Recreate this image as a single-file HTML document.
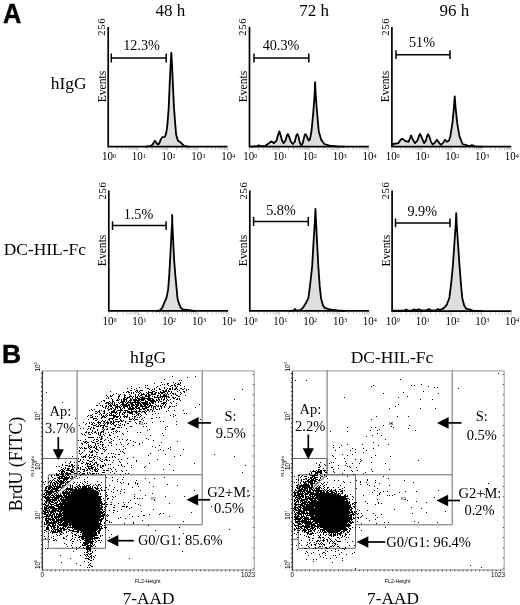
<!DOCTYPE html>
<html lang="en"><head><meta charset="utf-8"><title>Figure</title>
<style>html,body{margin:0;padding:0;background:#fff}svg{display:block}text{font-family:"Liberation Serif", serif;fill:#000}.s{font-family:"Liberation Sans", sans-serif}</style></head><body>
<svg width="520" height="605" viewBox="0 0 520 605">
<rect width="520" height="605" fill="#fff"/>
<text class="s" transform="translate(2.9 22.5) scale(0.94 1)" font-size="27" font-weight="bold" stroke="#000" stroke-width="0.4">A</text>
<text class="s" transform="translate(2.1 363) scale(1 1)" font-size="26.5" font-weight="bold" stroke="#000" stroke-width="0.4">B</text>
<text x="170.4" y="15.5" font-size="17" text-anchor="middle">48 h</text>
<text x="314" y="15.5" font-size="17" text-anchor="middle">72 h</text>
<text x="454.3" y="15.5" font-size="17" text-anchor="middle">96 h</text>
<text x="50.8" y="88.9" font-size="17.4">hIgG</text>
<text x="3.8" y="254.5" font-size="17.4">DC-HIL-Fc</text>
<path d="M108.2 147.6 v3.4 M117.2 147.6 v2.4 M122.4 147.6 v2.4 M126.1 147.6 v2.4 M129.0 147.6 v2.4 M131.4 147.6 v2.4 M133.4 147.6 v2.4 M135.1 147.6 v2.4 M136.6 147.6 v2.4 M138.0 147.6 v3.4 M147.0 147.6 v2.4 M152.2 147.6 v2.4 M155.9 147.6 v2.4 M158.8 147.6 v2.4 M161.2 147.6 v2.4 M163.2 147.6 v2.4 M164.9 147.6 v2.4 M166.4 147.6 v2.4 M167.8 147.6 v3.4 M176.8 147.6 v2.4 M182.0 147.6 v2.4 M185.7 147.6 v2.4 M188.6 147.6 v2.4 M191.0 147.6 v2.4 M193.0 147.6 v2.4 M194.7 147.6 v2.4 M196.2 147.6 v2.4 M197.6 147.6 v3.4 M206.6 147.6 v2.4 M211.8 147.6 v2.4 M215.5 147.6 v2.4 M218.4 147.6 v2.4 M220.8 147.6 v2.4 M222.8 147.6 v2.4 M224.5 147.6 v2.4 M226.0 147.6 v2.4 M227.5 147.6 v3.4" stroke="#aaa" stroke-width="0.7" fill="none"/>
<path d="M146.2 146.6 L151.2 145.9 L153.2 143.6 L154.7 140.8 L156.2 142.6 L157.7 144.4 L159.2 143.6 L160.7 139.6 L162.2 137.1 L164.7 136.8 L165.8 134.6 L166.6 130.6 L167.4 124.6 L168.7 107.9 L169.5 88.6 L170.4 68.6 L171.3 52.6 L172.2 68.6 L173.1 88.6 L174.0 107.9 L175.3 124.6 L176.1 134.6 L177.8 140.4 L180.7 142.5 L184.0 145.9 L188.2 146.6 Z" fill="#dedede" stroke="none"/>
<path d="M146.2 146.6 L151.2 145.9 L153.2 143.6 L154.7 140.8 L156.2 142.6 L157.7 144.4 L159.2 143.6 L160.7 139.6 L162.2 137.1 L164.7 136.8 L165.8 134.6 L166.6 130.6 L167.4 124.6 L168.7 107.9 L169.5 88.6 L170.4 68.6 L171.3 52.6 L172.2 68.6 L173.1 88.6 L174.0 107.9 L175.3 124.6 L176.1 134.6 L177.8 140.4 L180.7 142.5 L184.0 145.9 L188.2 146.6" fill="none" stroke="#000" stroke-width="1.8" stroke-linejoin="round" stroke-linecap="round"/>
<path d="M108.2 27 V146.6 H227.5" fill="none" stroke="#000" stroke-width="1.7"/>
<path d="M111.3 58 H166.2 M111.3 53.6 v8.8 M166.2 53.6 v8.8" stroke="#000" stroke-width="1.5" fill="none"/>
<text x="141.5" y="50.4" font-size="14.2" text-anchor="middle">12.3%</text>
<text transform="translate(109.0 160.4) scale(0.9 1)" font-size="12.2" text-anchor="middle">10<tspan font-size="7" dy="-2.6">0</tspan></text>
<text transform="translate(138.8 160.4) scale(0.9 1)" font-size="12.2" text-anchor="middle">10<tspan font-size="7" dy="-2.6">1</tspan></text>
<text transform="translate(168.6 160.4) scale(0.9 1)" font-size="12.2" text-anchor="middle">10<tspan font-size="7" dy="-2.6">2</tspan></text>
<text transform="translate(198.4 160.4) scale(0.9 1)" font-size="12.2" text-anchor="middle">10<tspan font-size="7" dy="-2.6">3</tspan></text>
<text transform="translate(228.2 160.4) scale(0.9 1)" font-size="12.2" text-anchor="middle">10<tspan font-size="7" dy="-2.6">4</tspan></text>
<text transform="translate(105.0 35.8) rotate(-90)" font-size="10.6" letter-spacing="0.7">256</text>
<text transform="translate(105.6 86.5) rotate(-90)" font-size="11.6" text-anchor="middle">Events</text>
<path d="M249.5 147.6 v3.4 M258.5 147.6 v2.4 M263.7 147.6 v2.4 M267.4 147.6 v2.4 M270.3 147.6 v2.4 M272.7 147.6 v2.4 M274.7 147.6 v2.4 M276.4 147.6 v2.4 M277.9 147.6 v2.4 M279.3 147.6 v3.4 M288.3 147.6 v2.4 M293.5 147.6 v2.4 M297.2 147.6 v2.4 M300.1 147.6 v2.4 M302.5 147.6 v2.4 M304.5 147.6 v2.4 M306.2 147.6 v2.4 M307.7 147.6 v2.4 M309.1 147.6 v3.4 M318.1 147.6 v2.4 M323.3 147.6 v2.4 M327.0 147.6 v2.4 M329.9 147.6 v2.4 M332.3 147.6 v2.4 M334.3 147.6 v2.4 M336.0 147.6 v2.4 M337.5 147.6 v2.4 M338.9 147.6 v3.4 M347.9 147.6 v2.4 M353.1 147.6 v2.4 M356.8 147.6 v2.4 M359.7 147.6 v2.4 M362.1 147.6 v2.4 M364.1 147.6 v2.4 M365.8 147.6 v2.4 M367.3 147.6 v2.4 M368.8 147.6 v3.4" stroke="#aaa" stroke-width="0.7" fill="none"/>
<path d="M251.5 146.6 L257.5 146.1 L258.8 145.2 L260.5 146.1 L265.4 145.8 L268.5 143.6 L271.1 141.4 L274.1 143.1 L276.5 140.6 L278.2 134.6 L279.4 131.4 L280.7 135.6 L282.0 140.6 L283.6 143.1 L285.5 140.6 L286.9 135.6 L287.9 134.1 L289.1 136.6 L290.8 141.6 L292.8 144.0 L294.8 141.6 L296.3 135.6 L297.4 134.1 L298.5 136.6 L299.8 142.6 L301.4 145.6 L302.9 142.6 L304.5 135.6 L305.6 134.1 L306.9 136.6 L308.7 140.6 L309.9 139.6 L311.5 131.0 L313.2 113.7 L314.5 96.6 L315.1 82.2 L315.8 96.6 L317.2 113.7 L318.7 131.0 L321.1 139.6 L324.3 144.0 L329.5 145.6 L337.5 146.3 L344.5 146.6 Z" fill="#dedede" stroke="none"/>
<path d="M251.5 146.6 L257.5 146.1 L258.8 145.2 L260.5 146.1 L265.4 145.8 L268.5 143.6 L271.1 141.4 L274.1 143.1 L276.5 140.6 L278.2 134.6 L279.4 131.4 L280.7 135.6 L282.0 140.6 L283.6 143.1 L285.5 140.6 L286.9 135.6 L287.9 134.1 L289.1 136.6 L290.8 141.6 L292.8 144.0 L294.8 141.6 L296.3 135.6 L297.4 134.1 L298.5 136.6 L299.8 142.6 L301.4 145.6 L302.9 142.6 L304.5 135.6 L305.6 134.1 L306.9 136.6 L308.7 140.6 L309.9 139.6 L311.5 131.0 L313.2 113.7 L314.5 96.6 L315.1 82.2 L315.8 96.6 L317.2 113.7 L318.7 131.0 L321.1 139.6 L324.3 144.0 L329.5 145.6 L337.5 146.3 L344.5 146.6" fill="none" stroke="#000" stroke-width="1.8" stroke-linejoin="round" stroke-linecap="round"/>
<path d="M249.5 27 V146.6 H368.8" fill="none" stroke="#000" stroke-width="1.7"/>
<path d="M254 58 H308.8 M254 53.6 v8.8 M308.8 53.6 v8.8" stroke="#000" stroke-width="1.5" fill="none"/>
<text x="281" y="50.4" font-size="14.2" text-anchor="middle">40.3%</text>
<text transform="translate(250.3 160.4) scale(0.9 1)" font-size="12.2" text-anchor="middle">10<tspan font-size="7" dy="-2.6">0</tspan></text>
<text transform="translate(280.1 160.4) scale(0.9 1)" font-size="12.2" text-anchor="middle">10<tspan font-size="7" dy="-2.6">1</tspan></text>
<text transform="translate(309.9 160.4) scale(0.9 1)" font-size="12.2" text-anchor="middle">10<tspan font-size="7" dy="-2.6">2</tspan></text>
<text transform="translate(339.7 160.4) scale(0.9 1)" font-size="12.2" text-anchor="middle">10<tspan font-size="7" dy="-2.6">3</tspan></text>
<text transform="translate(369.5 160.4) scale(0.9 1)" font-size="12.2" text-anchor="middle">10<tspan font-size="7" dy="-2.6">4</tspan></text>
<text transform="translate(246.3 35.8) rotate(-90)" font-size="10.6" letter-spacing="0.7">256</text>
<text transform="translate(246.9 86.5) rotate(-90)" font-size="11.6" text-anchor="middle">Events</text>
<path d="M391.9 147.6 v3.4 M400.9 147.6 v2.4 M406.1 147.6 v2.4 M409.8 147.6 v2.4 M412.7 147.6 v2.4 M415.1 147.6 v2.4 M417.1 147.6 v2.4 M418.8 147.6 v2.4 M420.3 147.6 v2.4 M421.7 147.6 v3.4 M430.7 147.6 v2.4 M435.9 147.6 v2.4 M439.6 147.6 v2.4 M442.5 147.6 v2.4 M444.9 147.6 v2.4 M446.9 147.6 v2.4 M448.6 147.6 v2.4 M450.1 147.6 v2.4 M451.5 147.6 v3.4 M460.5 147.6 v2.4 M465.7 147.6 v2.4 M469.4 147.6 v2.4 M472.3 147.6 v2.4 M474.7 147.6 v2.4 M476.7 147.6 v2.4 M478.4 147.6 v2.4 M479.9 147.6 v2.4 M481.3 147.6 v3.4 M490.3 147.6 v2.4 M495.5 147.6 v2.4 M499.2 147.6 v2.4 M502.1 147.6 v2.4 M504.5 147.6 v2.4 M506.5 147.6 v2.4 M508.2 147.6 v2.4 M509.7 147.6 v2.4 M511.2 147.6 v3.4" stroke="#aaa" stroke-width="0.7" fill="none"/>
<path d="M392.4 145.6 L393.3 144.0 L398.5 143.1 L400.6 139.7 L402.8 138.8 L405.4 141.1 L408.5 141.8 L409.9 138.6 L411.1 135.4 L412.4 138.6 L414.9 143.1 L417.4 140.6 L419.1 135.6 L420.1 134.1 L421.3 136.6 L424.1 143.1 L425.9 140.6 L427.3 135.6 L428.2 134.1 L429.3 136.6 L430.9 141.6 L432.7 144.6 L434.9 142.6 L436.9 139.7 L438.9 142.6 L440.9 144.9 L443.4 142.6 L444.9 139.7 L446.9 141.8 L449.0 140.6 L450.4 136.2 L452.5 122.4 L454.0 106.6 L454.7 96.4 L455.5 106.6 L457.1 122.4 L459.4 136.2 L462.5 144.0 L469.4 146.1 L472.0 145.2 L474.9 146.3 L481.9 146.6 Z" fill="#dedede" stroke="none"/>
<path d="M392.4 145.6 L393.3 144.0 L398.5 143.1 L400.6 139.7 L402.8 138.8 L405.4 141.1 L408.5 141.8 L409.9 138.6 L411.1 135.4 L412.4 138.6 L414.9 143.1 L417.4 140.6 L419.1 135.6 L420.1 134.1 L421.3 136.6 L424.1 143.1 L425.9 140.6 L427.3 135.6 L428.2 134.1 L429.3 136.6 L430.9 141.6 L432.7 144.6 L434.9 142.6 L436.9 139.7 L438.9 142.6 L440.9 144.9 L443.4 142.6 L444.9 139.7 L446.9 141.8 L449.0 140.6 L450.4 136.2 L452.5 122.4 L454.0 106.6 L454.7 96.4 L455.5 106.6 L457.1 122.4 L459.4 136.2 L462.5 144.0 L469.4 146.1 L472.0 145.2 L474.9 146.3 L481.9 146.6" fill="none" stroke="#000" stroke-width="1.8" stroke-linejoin="round" stroke-linecap="round"/>
<path d="M391.9 27 V146.6 H511.2" fill="none" stroke="#000" stroke-width="1.7"/>
<path d="M396 54.7 H450 M396 50.300000000000004 v8.8 M450 50.300000000000004 v8.8" stroke="#000" stroke-width="1.5" fill="none"/>
<text x="422" y="47.4" font-size="14.2" text-anchor="middle">51%</text>
<text transform="translate(392.7 160.4) scale(0.9 1)" font-size="12.2" text-anchor="middle">10<tspan font-size="7" dy="-2.6">0</tspan></text>
<text transform="translate(422.5 160.4) scale(0.9 1)" font-size="12.2" text-anchor="middle">10<tspan font-size="7" dy="-2.6">1</tspan></text>
<text transform="translate(452.3 160.4) scale(0.9 1)" font-size="12.2" text-anchor="middle">10<tspan font-size="7" dy="-2.6">2</tspan></text>
<text transform="translate(482.1 160.4) scale(0.9 1)" font-size="12.2" text-anchor="middle">10<tspan font-size="7" dy="-2.6">3</tspan></text>
<text transform="translate(511.9 160.4) scale(0.9 1)" font-size="12.2" text-anchor="middle">10<tspan font-size="7" dy="-2.6">4</tspan></text>
<text transform="translate(388.7 35.8) rotate(-90)" font-size="10.6" letter-spacing="0.7">256</text>
<text transform="translate(389.3 86.5) rotate(-90)" font-size="11.6" text-anchor="middle">Events</text>
<path d="M108.8 311.9 v3.4 M117.8 311.9 v2.4 M123.0 311.9 v2.4 M126.7 311.9 v2.4 M129.6 311.9 v2.4 M132.0 311.9 v2.4 M134.0 311.9 v2.4 M135.7 311.9 v2.4 M137.2 311.9 v2.4 M138.6 311.9 v3.4 M147.6 311.9 v2.4 M152.8 311.9 v2.4 M156.5 311.9 v2.4 M159.4 311.9 v2.4 M161.8 311.9 v2.4 M163.8 311.9 v2.4 M165.5 311.9 v2.4 M167.0 311.9 v2.4 M168.4 311.9 v3.4 M177.4 311.9 v2.4 M182.6 311.9 v2.4 M186.3 311.9 v2.4 M189.2 311.9 v2.4 M191.6 311.9 v2.4 M193.6 311.9 v2.4 M195.3 311.9 v2.4 M196.8 311.9 v2.4 M198.2 311.9 v3.4 M207.2 311.9 v2.4 M212.4 311.9 v2.4 M216.1 311.9 v2.4 M219.0 311.9 v2.4 M221.4 311.9 v2.4 M223.4 311.9 v2.4 M225.1 311.9 v2.4 M226.6 311.9 v2.4 M228.1 311.9 v3.4" stroke="#aaa" stroke-width="0.7" fill="none"/>
<path d="M156.8 310.9 L159.8 310.4 L162.3 307.9 L163.9 303.6 L166.5 297.9 L168.1 289.7 L169.2 275.9 L170.1 259.9 L171.1 240.9 L172.1 222.9 L172.2 214.9 L172.3 222.9 L173.2 240.9 L174.1 259.9 L175.4 275.9 L176.7 289.7 L177.6 298.9 L179.1 303.9 L180.8 307.9 L182.8 309.5 L188.8 310.1 L194.8 310.9 Z" fill="#dedede" stroke="none"/>
<path d="M156.8 310.9 L159.8 310.4 L162.3 307.9 L163.9 303.6 L166.5 297.9 L168.1 289.7 L169.2 275.9 L170.1 259.9 L171.1 240.9 L172.1 222.9 L172.2 214.9 L172.3 222.9 L173.2 240.9 L174.1 259.9 L175.4 275.9 L176.7 289.7 L177.6 298.9 L179.1 303.9 L180.8 307.9 L182.8 309.5 L188.8 310.1 L194.8 310.9" fill="none" stroke="#000" stroke-width="1.8" stroke-linejoin="round" stroke-linecap="round"/>
<path d="M108.8 190.6 V310.9 H228.1" fill="none" stroke="#000" stroke-width="1.7"/>
<path d="M112.5 225.6 H166.1 M112.5 221.2 v8.8 M166.1 221.2 v8.8" stroke="#000" stroke-width="1.5" fill="none"/>
<text x="138.5" y="218.7" font-size="14.2" text-anchor="middle">1.5%</text>
<text transform="translate(109.6 324.7) scale(0.9 1)" font-size="12.2" text-anchor="middle">10<tspan font-size="7" dy="-2.6">0</tspan></text>
<text transform="translate(139.4 324.7) scale(0.9 1)" font-size="12.2" text-anchor="middle">10<tspan font-size="7" dy="-2.6">1</tspan></text>
<text transform="translate(169.2 324.7) scale(0.9 1)" font-size="12.2" text-anchor="middle">10<tspan font-size="7" dy="-2.6">2</tspan></text>
<text transform="translate(199.0 324.7) scale(0.9 1)" font-size="12.2" text-anchor="middle">10<tspan font-size="7" dy="-2.6">3</tspan></text>
<text transform="translate(228.8 324.7) scale(0.9 1)" font-size="12.2" text-anchor="middle">10<tspan font-size="7" dy="-2.6">4</tspan></text>
<text transform="translate(105.6 199.4) rotate(-90)" font-size="10.6" letter-spacing="0.7">256</text>
<text transform="translate(106.2 250.4) rotate(-90)" font-size="11.6" text-anchor="middle">Events</text>
<path d="M249.8 311.9 v3.4 M258.8 311.9 v2.4 M264.0 311.9 v2.4 M267.7 311.9 v2.4 M270.6 311.9 v2.4 M273.0 311.9 v2.4 M275.0 311.9 v2.4 M276.7 311.9 v2.4 M278.2 311.9 v2.4 M279.6 311.9 v3.4 M288.6 311.9 v2.4 M293.8 311.9 v2.4 M297.5 311.9 v2.4 M300.4 311.9 v2.4 M302.8 311.9 v2.4 M304.8 311.9 v2.4 M306.5 311.9 v2.4 M308.0 311.9 v2.4 M309.4 311.9 v3.4 M318.4 311.9 v2.4 M323.6 311.9 v2.4 M327.3 311.9 v2.4 M330.2 311.9 v2.4 M332.6 311.9 v2.4 M334.6 311.9 v2.4 M336.3 311.9 v2.4 M337.8 311.9 v2.4 M339.2 311.9 v3.4 M348.2 311.9 v2.4 M353.4 311.9 v2.4 M357.1 311.9 v2.4 M360.0 311.9 v2.4 M362.4 311.9 v2.4 M364.4 311.9 v2.4 M366.1 311.9 v2.4 M367.6 311.9 v2.4 M369.1 311.9 v3.4" stroke="#aaa" stroke-width="0.7" fill="none"/>
<path d="M289.8 310.9 L293.8 310.4 L294.8 308.9 L295.8 310.4 L300.2 310.1 L302.8 307.9 L305.6 303.6 L308.4 298.2 L310.0 285.9 L312.2 265.9 L313.5 242.9 L314.9 220.9 L315.5 208.9 L316.0 220.9 L317.1 242.9 L318.3 265.9 L319.7 285.9 L321.0 298.2 L322.8 304.9 L324.4 307.7 L327.8 308.9 L331.2 309.6 L337.8 310.5 L344.8 310.9 Z" fill="#dedede" stroke="none"/>
<path d="M289.8 310.9 L293.8 310.4 L294.8 308.9 L295.8 310.4 L300.2 310.1 L302.8 307.9 L305.6 303.6 L308.4 298.2 L310.0 285.9 L312.2 265.9 L313.5 242.9 L314.9 220.9 L315.5 208.9 L316.0 220.9 L317.1 242.9 L318.3 265.9 L319.7 285.9 L321.0 298.2 L322.8 304.9 L324.4 307.7 L327.8 308.9 L331.2 309.6 L337.8 310.5 L344.8 310.9" fill="none" stroke="#000" stroke-width="1.8" stroke-linejoin="round" stroke-linecap="round"/>
<path d="M249.8 190.6 V310.9 H369.1" fill="none" stroke="#000" stroke-width="1.7"/>
<path d="M253.6 221.5 H308.3 M253.6 217.1 v8.8 M308.3 217.1 v8.8" stroke="#000" stroke-width="1.5" fill="none"/>
<text x="281" y="215.4" font-size="14.2" text-anchor="middle">5.8%</text>
<text transform="translate(250.6 324.7) scale(0.9 1)" font-size="12.2" text-anchor="middle">10<tspan font-size="7" dy="-2.6">0</tspan></text>
<text transform="translate(280.4 324.7) scale(0.9 1)" font-size="12.2" text-anchor="middle">10<tspan font-size="7" dy="-2.6">1</tspan></text>
<text transform="translate(310.2 324.7) scale(0.9 1)" font-size="12.2" text-anchor="middle">10<tspan font-size="7" dy="-2.6">2</tspan></text>
<text transform="translate(340.0 324.7) scale(0.9 1)" font-size="12.2" text-anchor="middle">10<tspan font-size="7" dy="-2.6">3</tspan></text>
<text transform="translate(369.8 324.7) scale(0.9 1)" font-size="12.2" text-anchor="middle">10<tspan font-size="7" dy="-2.6">4</tspan></text>
<text transform="translate(246.6 199.4) rotate(-90)" font-size="10.6" letter-spacing="0.7">256</text>
<text transform="translate(247.2 250.4) rotate(-90)" font-size="11.6" text-anchor="middle">Events</text>
<path d="M392.1 312.2 v3.4 M401.1 312.2 v2.4 M406.3 312.2 v2.4 M410.0 312.2 v2.4 M412.9 312.2 v2.4 M415.3 312.2 v2.4 M417.3 312.2 v2.4 M419.0 312.2 v2.4 M420.5 312.2 v2.4 M421.9 312.2 v3.4 M430.9 312.2 v2.4 M436.1 312.2 v2.4 M439.8 312.2 v2.4 M442.7 312.2 v2.4 M445.1 312.2 v2.4 M447.1 312.2 v2.4 M448.8 312.2 v2.4 M450.3 312.2 v2.4 M451.7 312.2 v3.4 M460.7 312.2 v2.4 M465.9 312.2 v2.4 M469.6 312.2 v2.4 M472.5 312.2 v2.4 M474.9 312.2 v2.4 M476.9 312.2 v2.4 M478.6 312.2 v2.4 M480.1 312.2 v2.4 M481.5 312.2 v3.4 M490.5 312.2 v2.4 M495.7 312.2 v2.4 M499.4 312.2 v2.4 M502.3 312.2 v2.4 M504.7 312.2 v2.4 M506.7 312.2 v2.4 M508.4 312.2 v2.4 M509.9 312.2 v2.4 M511.4 312.2 v3.4" stroke="#aaa" stroke-width="0.7" fill="none"/>
<path d="M392.6 310.7 L398.1 310.6 L404.1 310.7 L406.1 309.6 L408.1 310.6 L412.1 310.4 L414.1 309.4 L416.1 310.4 L419.1 309.2 L421.1 310.4 L426.1 310.4 L429.1 309.0 L431.1 310.4 L436.1 310.2 L438.1 309.0 L439.6 310.2 L442.1 309.2 L444.6 307.2 L446.6 305.2 L449.4 297.7 L451.2 283.2 L452.9 265.4 L454.4 243.2 L455.8 223.2 L456.2 213.2 L456.6 223.2 L458.0 243.2 L459.5 265.4 L460.9 283.2 L462.2 297.7 L464.1 305.2 L466.2 308.7 L470.1 309.7 L473.0 310.7 L482.1 311.2 Z" fill="#dedede" stroke="none"/>
<path d="M392.6 310.7 L398.1 310.6 L404.1 310.7 L406.1 309.6 L408.1 310.6 L412.1 310.4 L414.1 309.4 L416.1 310.4 L419.1 309.2 L421.1 310.4 L426.1 310.4 L429.1 309.0 L431.1 310.4 L436.1 310.2 L438.1 309.0 L439.6 310.2 L442.1 309.2 L444.6 307.2 L446.6 305.2 L449.4 297.7 L451.2 283.2 L452.9 265.4 L454.4 243.2 L455.8 223.2 L456.2 213.2 L456.6 223.2 L458.0 243.2 L459.5 265.4 L460.9 283.2 L462.2 297.7 L464.1 305.2 L466.2 308.7 L470.1 309.7 L473.0 310.7 L482.1 311.2" fill="none" stroke="#000" stroke-width="1.8" stroke-linejoin="round" stroke-linecap="round"/>
<path d="M392.1 190.6 V311.2 H511.40000000000003" fill="none" stroke="#000" stroke-width="1.7"/>
<path d="M395.5 222.9 H450 M395.5 218.5 v8.8 M450 218.5 v8.8" stroke="#000" stroke-width="1.5" fill="none"/>
<text x="422.2" y="216" font-size="14.2" text-anchor="middle">9.9%</text>
<text transform="translate(392.9 325.0) scale(0.9 1)" font-size="12.2" text-anchor="middle">10<tspan font-size="7" dy="-2.6">0</tspan></text>
<text transform="translate(422.7 325.0) scale(0.9 1)" font-size="12.2" text-anchor="middle">10<tspan font-size="7" dy="-2.6">1</tspan></text>
<text transform="translate(452.5 325.0) scale(0.9 1)" font-size="12.2" text-anchor="middle">10<tspan font-size="7" dy="-2.6">2</tspan></text>
<text transform="translate(482.3 325.0) scale(0.9 1)" font-size="12.2" text-anchor="middle">10<tspan font-size="7" dy="-2.6">3</tspan></text>
<text transform="translate(512.1 325.0) scale(0.9 1)" font-size="12.2" text-anchor="middle">10<tspan font-size="7" dy="-2.6">4</tspan></text>
<text transform="translate(388.9 199.4) rotate(-90)" font-size="10.6" letter-spacing="0.7">256</text>
<text transform="translate(389.5 250.6) rotate(-90)" font-size="11.6" text-anchor="middle">Events</text>
<path d="M42.4 370.9 H254.2" fill="none" stroke="#9a9a9a" stroke-width="1"/>
<path d="M254.2 370.9 V570" fill="none" stroke="#9a9a9a" stroke-width="1"/>
<path d="M42.4 570 H254.2" fill="none" stroke="#8a8a8a" stroke-width="1"/>
<path d="M42.4 370.9 V570.5" fill="none" stroke="#3a3a3a" stroke-width="1.3"/>
<path d="M42.4 570.5 H254.2" fill="none" stroke="#444" stroke-width="1.5" stroke-dasharray="1 3.15"/>
<path d="M41.6 372.9 V570" fill="none" stroke="#333" stroke-width="1.4" stroke-dasharray="1 3.5"/>
<path d="M253.39999999999998 373.9 V570" fill="none" stroke="#555" stroke-width="1.3" stroke-dasharray="1 9.2"/>
<path d="M77.1 370.6 V474.8 H202.2 V370.6" fill="none" stroke="#6a6a6a" stroke-width="1"/>
<path d="M105.5 474.8 V524.8 H202.2 V474.8" fill="none" stroke="#6a6a6a" stroke-width="1"/>
<path d="M48.3 474.8 H105.5 V548.3 H48.3 Z" fill="none" stroke="#6a6a6a" stroke-width="1"/>
<path d="M42.4 458.5 H77.1 V474.8 L57.8 492 M42.4 539.3 H48.3" fill="none" stroke="#6a6a6a" stroke-width="1"/>
<path d="M68.4 498.3 L72.1 490.7 L83.5 487.8 L96.9 490.7 L99.8 500.2 L100.7 515.4 L96.9 528.8 L90.3 538.3 L86.4 542.1 L82.6 532.5 L76.0 528.8 L68.4 523.0 L62.6 515.4 L63.6 505.9 Z" fill="#000"/>
<path d="M43 482.5h1M43 494.5h1M43 496.5h1M43 504.5h1M43 510.5h1M43 511.5h1M43 513.5h1M43 517.5h1M44 484.5h1M44 490.5h1M44 493.5h1M44 494.5h1M44 496.5h1M44 497.5h1M44 500.5h1M44 503.5h1M44 504.5h1M44 506.5h1M44 507.5h1M44 508.5h1M44 509.5h1M44 511.5h1M44 512.5h1M44 513.5h1M44 514.5h1M44 516.5h1M44 522.5h1M44 523.5h1M44 524.5h1M44 526.5h1M44 530.5h1M44 532.5h1M44 536.5h1M45 481.5h1M45 487.5h1M45 488.5h1M45 489.5h1M45 490.5h1M45 492.5h1M45 495.5h1M45 496.5h1M45 497.5h1M45 498.5h1M45 501.5h1M45 502.5h1M45 504.5h1M45 505.5h1M45 507.5h1M45 508.5h1M45 509.5h1M45 510.5h1M45 511.5h1M45 512.5h1M45 513.5h1M45 514.5h1M45 516.5h1M45 518.5h1M45 519.5h1M45 520.5h1M45 524.5h1M45 530.5h1M45 538.5h1M45 548.5h1M46 392.5h1M46 486.5h1M46 487.5h1M46 488.5h1M46 490.5h1M46 491.5h1M46 492.5h1M46 493.5h1M46 494.5h1M46 495.5h1M46 497.5h1M46 498.5h1M46 499.5h1M46 500.5h1M46 501.5h1M46 502.5h1M46 503.5h1M46 505.5h1M46 506.5h1M46 507.5h1M46 508.5h1M46 509.5h1M46 510.5h1M46 512.5h1M46 514.5h1M46 515.5h1M46 516.5h1M46 517.5h1M46 518.5h1M46 519.5h1M46 520.5h1M46 521.5h1M46 522.5h1M46 523.5h1M46 524.5h1M46 527.5h1M46 528.5h1M46 529.5h1M46 531.5h1M47 486.5h1M47 490.5h1M47 491.5h1M47 492.5h1M47 494.5h1M47 496.5h1M47 497.5h1M47 498.5h1M47 499.5h1M47 500.5h1M47 501.5h1M47 505.5h1M47 506.5h1M47 508.5h1M47 510.5h1M47 511.5h1M47 512.5h1M47 514.5h1M47 515.5h1M47 516.5h1M47 518.5h1M47 520.5h1M47 521.5h1M47 522.5h1M47 523.5h1M47 525.5h1M47 526.5h1M47 527.5h1M47 528.5h1M47 529.5h1M47 548.5h1M48 478.5h1M48 482.5h1M48 487.5h1M48 488.5h1M48 489.5h1M48 491.5h1M48 492.5h1M48 493.5h1M48 494.5h1M48 496.5h1M48 497.5h1M48 498.5h1M48 499.5h1M48 500.5h1M48 502.5h1M48 504.5h1M48 505.5h1M48 507.5h1M48 508.5h1M48 512.5h1M48 513.5h1M48 516.5h1M48 517.5h1M48 518.5h1M48 519.5h1M48 520.5h1M48 521.5h1M48 522.5h1M48 524.5h1M48 525.5h1M48 527.5h1M48 528.5h1M48 529.5h1M48 533.5h1M48 536.5h1M48 541.5h1M49 481.5h1M49 485.5h1M49 486.5h1M49 487.5h1M49 488.5h1M49 489.5h1M49 491.5h1M49 492.5h1M49 493.5h1M49 494.5h1M49 495.5h1M49 497.5h1M49 498.5h1M49 499.5h1M49 500.5h1M49 501.5h1M49 502.5h1M49 503.5h1M49 506.5h1M49 507.5h1M49 509.5h1M49 510.5h1M49 511.5h1M49 514.5h1M49 515.5h1M49 516.5h1M49 518.5h1M49 519.5h1M49 522.5h1M49 523.5h1M49 524.5h1M49 525.5h1M49 530.5h1M49 539.5h1M50 480.5h1M50 482.5h1M50 483.5h1M50 484.5h1M50 485.5h1M50 486.5h1M50 487.5h1M50 488.5h1M50 490.5h1M50 491.5h1M50 492.5h1M50 493.5h1M50 494.5h1M50 496.5h1M50 497.5h1M50 499.5h1M50 500.5h1M50 501.5h1M50 503.5h1M50 504.5h1M50 506.5h1M50 507.5h1M50 508.5h1M50 511.5h1M50 512.5h1M50 513.5h1M50 514.5h1M50 515.5h1M50 518.5h1M50 519.5h1M50 520.5h1M50 522.5h1M50 523.5h1M50 525.5h1M50 526.5h1M50 532.5h1M51 475.5h1M51 476.5h1M51 481.5h1M51 482.5h1M51 486.5h1M51 487.5h1M51 489.5h1M51 490.5h1M51 491.5h1M51 492.5h1M51 493.5h1M51 495.5h1M51 497.5h1M51 499.5h1M51 501.5h1M51 502.5h1M51 504.5h1M51 505.5h1M51 506.5h1M51 507.5h1M51 508.5h1M51 510.5h1M51 511.5h1M51 512.5h1M51 513.5h1M51 515.5h1M51 516.5h1M51 517.5h1M51 519.5h1M51 521.5h1M51 522.5h1M51 523.5h1M51 526.5h1M51 527.5h1M51 528.5h1M51 530.5h1M51 531.5h1M51 537.5h1M52 477.5h1M52 480.5h1M52 483.5h1M52 484.5h1M52 485.5h1M52 487.5h1M52 488.5h1M52 489.5h1M52 490.5h1M52 491.5h1M52 492.5h1M52 494.5h1M52 495.5h1M52 497.5h1M52 498.5h1M52 499.5h1M52 500.5h1M52 501.5h1M52 502.5h1M52 504.5h1M52 506.5h1M52 507.5h1M52 508.5h1M52 509.5h1M52 510.5h1M52 511.5h1M52 512.5h1M52 514.5h1M52 515.5h1M52 516.5h1M52 517.5h1M52 518.5h1M52 519.5h1M52 520.5h1M52 522.5h1M52 523.5h1M52 524.5h1M52 525.5h1M52 526.5h1M52 529.5h1M52 531.5h1M52 532.5h1M52 533.5h1M53 479.5h1M53 482.5h1M53 485.5h1M53 486.5h1M53 488.5h1M53 489.5h1M53 491.5h1M53 492.5h1M53 495.5h1M53 496.5h1M53 497.5h1M53 499.5h1M53 500.5h1M53 502.5h1M53 504.5h1M53 506.5h1M53 507.5h1M53 508.5h1M53 509.5h1M53 510.5h1M53 511.5h1M53 512.5h1M53 513.5h1M53 514.5h1M53 518.5h1M53 519.5h1M53 520.5h1M53 521.5h1M53 522.5h1M53 523.5h1M53 524.5h1M53 525.5h1M53 526.5h1M53 527.5h1M53 528.5h1M53 530.5h1M53 531.5h1M53 532.5h1M53 536.5h1M53 538.5h1M53 540.5h1M54 475.5h1M54 478.5h1M54 480.5h1M54 482.5h1M54 483.5h1M54 484.5h1M54 486.5h1M54 487.5h1M54 488.5h1M54 489.5h1M54 491.5h1M54 493.5h1M54 494.5h1M54 496.5h1M54 497.5h1M54 498.5h1M54 499.5h1M54 500.5h1M54 501.5h1M54 503.5h1M54 505.5h1M54 507.5h1M54 508.5h1M54 509.5h1M54 510.5h1M54 511.5h1M54 513.5h1M54 514.5h1M54 515.5h1M54 516.5h1M54 517.5h1M54 519.5h1M54 520.5h1M54 521.5h1M54 522.5h1M54 523.5h1M54 525.5h1M54 526.5h1M54 527.5h1M54 528.5h1M54 529.5h1M54 531.5h1M54 532.5h1M54 540.5h1M55 478.5h1M55 481.5h1M55 483.5h1M55 484.5h1M55 485.5h1M55 486.5h1M55 488.5h1M55 489.5h1M55 490.5h1M55 491.5h1M55 493.5h1M55 495.5h1M55 497.5h1M55 498.5h1M55 499.5h1M55 500.5h1M55 502.5h1M55 503.5h1M55 505.5h1M55 508.5h1M55 509.5h1M55 510.5h1M55 511.5h1M55 512.5h1M55 516.5h1M55 517.5h1M55 518.5h1M55 521.5h1M55 522.5h1M55 523.5h1M55 524.5h1M55 525.5h1M55 527.5h1M55 529.5h1M55 530.5h1M55 531.5h1M55 532.5h1M55 539.5h1M56 466.5h1M56 473.5h1M56 474.5h1M56 475.5h1M56 481.5h1M56 482.5h1M56 486.5h1M56 487.5h1M56 488.5h1M56 489.5h1M56 490.5h1M56 491.5h1M56 492.5h1M56 494.5h1M56 495.5h1M56 496.5h1M56 497.5h1M56 498.5h1M56 499.5h1M56 500.5h1M56 502.5h1M56 503.5h1M56 504.5h1M56 505.5h1M56 506.5h1M56 508.5h1M56 509.5h1M56 510.5h1M56 513.5h1M56 514.5h1M56 515.5h1M56 516.5h1M56 517.5h1M56 518.5h1M56 519.5h1M56 520.5h1M56 521.5h1M56 522.5h1M56 529.5h1M56 532.5h1M56 534.5h1M56 540.5h1M57 474.5h1M57 475.5h1M57 477.5h1M57 479.5h1M57 480.5h1M57 482.5h1M57 483.5h1M57 484.5h1M57 485.5h1M57 486.5h1M57 487.5h1M57 488.5h1M57 489.5h1M57 490.5h1M57 492.5h1M57 493.5h1M57 495.5h1M57 496.5h1M57 497.5h1M57 498.5h1M57 501.5h1M57 502.5h1M57 504.5h1M57 505.5h1M57 506.5h1M57 508.5h1M57 510.5h1M57 511.5h1M57 513.5h1M57 514.5h1M57 516.5h1M57 517.5h1M57 519.5h1M57 520.5h1M57 521.5h1M57 523.5h1M57 525.5h1M57 526.5h1M57 527.5h1M57 528.5h1M57 529.5h1M57 530.5h1M57 531.5h1M57 532.5h1M57 535.5h1M58 470.5h1M58 474.5h1M58 475.5h1M58 477.5h1M58 478.5h1M58 480.5h1M58 481.5h1M58 483.5h1M58 486.5h1M58 487.5h1M58 488.5h1M58 490.5h1M58 491.5h1M58 492.5h1M58 493.5h1M58 494.5h1M58 495.5h1M58 496.5h1M58 497.5h1M58 498.5h1M58 499.5h1M58 500.5h1M58 504.5h1M58 505.5h1M58 506.5h1M58 507.5h1M58 508.5h1M58 509.5h1M58 510.5h1M58 511.5h1M58 514.5h1M58 515.5h1M58 516.5h1M58 517.5h1M58 518.5h1M58 519.5h1M58 520.5h1M58 521.5h1M58 522.5h1M58 523.5h1M58 524.5h1M58 526.5h1M58 527.5h1M58 529.5h1M58 530.5h1M58 531.5h1M59 466.5h1M59 471.5h1M59 473.5h1M59 476.5h1M59 477.5h1M59 478.5h1M59 479.5h1M59 481.5h1M59 482.5h1M59 484.5h1M59 485.5h1M59 486.5h1M59 487.5h1M59 491.5h1M59 495.5h1M59 496.5h1M59 497.5h1M59 500.5h1M59 501.5h1M59 503.5h1M59 504.5h1M59 506.5h1M59 507.5h1M59 508.5h1M59 509.5h1M59 511.5h1M59 512.5h1M59 513.5h1M59 514.5h1M59 515.5h1M59 516.5h1M59 517.5h1M59 519.5h1M59 520.5h1M59 522.5h1M59 524.5h1M59 525.5h1M59 528.5h1M59 530.5h1M59 531.5h1M59 532.5h1M59 535.5h1M60 470.5h1M60 474.5h1M60 476.5h1M60 478.5h1M60 480.5h1M60 481.5h1M60 482.5h1M60 483.5h1M60 484.5h1M60 485.5h1M60 486.5h1M60 487.5h1M60 489.5h1M60 490.5h1M60 491.5h1M60 492.5h1M60 493.5h1M60 494.5h1M60 495.5h1M60 496.5h1M60 498.5h1M60 499.5h1M60 502.5h1M60 503.5h1M60 504.5h1M60 505.5h1M60 506.5h1M60 507.5h1M60 508.5h1M60 509.5h1M60 510.5h1M60 511.5h1M60 512.5h1M60 513.5h1M60 514.5h1M60 515.5h1M60 516.5h1M60 518.5h1M60 519.5h1M60 520.5h1M60 521.5h1M60 522.5h1M60 523.5h1M60 524.5h1M60 525.5h1M60 527.5h1M60 528.5h1M60 529.5h1M60 530.5h1M60 531.5h1M60 533.5h1M60 534.5h1M60 555.5h1M61 467.5h1M61 469.5h1M61 471.5h1M61 472.5h1M61 473.5h1M61 474.5h1M61 476.5h1M61 477.5h1M61 478.5h1M61 480.5h1M61 481.5h1M61 482.5h1M61 483.5h1M61 484.5h1M61 487.5h1M61 488.5h1M61 491.5h1M61 495.5h1M61 496.5h1M61 497.5h1M61 498.5h1M61 499.5h1M61 500.5h1M61 501.5h1M61 503.5h1M61 504.5h1M61 505.5h1M61 506.5h1M61 507.5h1M61 508.5h1M61 509.5h1M61 510.5h1M61 511.5h1M61 513.5h1M61 514.5h1M61 515.5h1M61 516.5h1M61 517.5h1M61 518.5h1M61 519.5h1M61 520.5h1M61 521.5h1M61 522.5h1M61 524.5h1M61 525.5h1M61 528.5h1M61 529.5h1M61 530.5h1M61 531.5h1M61 532.5h1M61 534.5h1M61 562.5h1M62 402.5h1M62 464.5h1M62 465.5h1M62 469.5h1M62 470.5h1M62 471.5h1M62 472.5h1M62 473.5h1M62 474.5h1M62 475.5h1M62 476.5h1M62 477.5h1M62 478.5h1M62 481.5h1M62 482.5h1M62 483.5h1M62 485.5h1M62 486.5h1M62 488.5h1M62 490.5h1M62 491.5h1M62 492.5h1M62 493.5h1M62 496.5h1M62 497.5h1M62 499.5h1M62 500.5h1M62 501.5h1M62 502.5h1M62 503.5h1M62 504.5h1M62 505.5h1M62 506.5h1M62 507.5h1M62 508.5h1M62 509.5h1M62 510.5h1M62 512.5h1M62 513.5h1M62 515.5h1M62 517.5h1M62 518.5h1M62 519.5h1M62 520.5h1M62 521.5h1M62 523.5h1M62 524.5h1M62 525.5h1M62 527.5h1M62 528.5h1M62 532.5h1M63 468.5h1M63 470.5h1M63 471.5h1M63 473.5h1M63 474.5h1M63 475.5h1M63 476.5h1M63 478.5h1M63 479.5h1M63 480.5h1M63 481.5h1M63 482.5h1M63 483.5h1M63 485.5h1M63 487.5h1M63 488.5h1M63 490.5h1M63 491.5h1M63 492.5h1M63 493.5h1M63 494.5h1M63 495.5h1M63 497.5h1M63 498.5h1M63 499.5h1M63 500.5h1M63 501.5h1M63 502.5h1M63 503.5h1M63 504.5h1M63 506.5h1M63 507.5h1M63 508.5h1M63 509.5h1M63 510.5h1M63 511.5h1M63 512.5h1M63 513.5h1M63 514.5h1M63 515.5h1M63 516.5h1M63 517.5h1M63 518.5h1M63 519.5h1M63 520.5h1M63 522.5h1M63 523.5h1M63 524.5h1M63 525.5h1M63 526.5h1M63 527.5h1M63 528.5h1M63 529.5h1M63 530.5h1M63 533.5h1M63 537.5h1M63 538.5h1M64 469.5h1M64 471.5h1M64 472.5h1M64 476.5h1M64 477.5h1M64 478.5h1M64 479.5h1M64 480.5h1M64 482.5h1M64 485.5h1M64 487.5h1M64 490.5h1M64 492.5h1M64 493.5h1M64 494.5h1M64 495.5h1M64 496.5h1M64 497.5h1M64 499.5h1M64 500.5h1M64 501.5h1M64 502.5h1M64 503.5h1M64 504.5h1M64 505.5h1M64 506.5h1M64 507.5h1M64 508.5h1M64 509.5h1M64 511.5h1M64 512.5h1M64 513.5h1M64 514.5h1M64 516.5h1M64 517.5h1M64 518.5h1M64 519.5h1M64 520.5h1M64 521.5h1M64 522.5h1M64 523.5h1M64 524.5h1M64 525.5h1M64 526.5h1M64 528.5h1M64 529.5h1M64 530.5h1M64 538.5h1M64 543.5h1M65 462.5h1M65 465.5h1M65 467.5h1M65 468.5h1M65 473.5h1M65 475.5h1M65 477.5h1M65 478.5h1M65 479.5h1M65 481.5h1M65 483.5h1M65 484.5h1M65 485.5h1M65 489.5h1M65 491.5h1M65 492.5h1M65 493.5h1M65 495.5h1M65 496.5h1M65 497.5h1M65 498.5h1M65 499.5h1M65 500.5h1M65 501.5h1M65 502.5h1M65 503.5h1M65 504.5h1M65 505.5h1M65 506.5h1M65 507.5h1M65 508.5h1M65 509.5h1M65 510.5h1M65 511.5h1M65 512.5h1M65 513.5h1M65 514.5h1M65 516.5h1M65 517.5h1M65 518.5h1M65 519.5h1M65 520.5h1M65 521.5h1M65 522.5h1M65 523.5h1M65 524.5h1M65 525.5h1M65 526.5h1M65 527.5h1M65 529.5h1M66 465.5h1M66 470.5h1M66 472.5h1M66 473.5h1M66 474.5h1M66 476.5h1M66 477.5h1M66 478.5h1M66 479.5h1M66 480.5h1M66 482.5h1M66 486.5h1M66 488.5h1M66 489.5h1M66 490.5h1M66 491.5h1M66 492.5h1M66 493.5h1M66 494.5h1M66 495.5h1M66 496.5h1M66 497.5h1M66 498.5h1M66 499.5h1M66 500.5h1M66 502.5h1M66 503.5h1M66 504.5h1M66 505.5h1M66 506.5h1M66 507.5h1M66 508.5h1M66 509.5h1M66 510.5h1M66 511.5h1M66 512.5h1M66 513.5h1M66 514.5h1M66 515.5h1M66 516.5h1M66 518.5h1M66 519.5h1M66 520.5h1M66 521.5h1M66 522.5h1M66 523.5h1M66 524.5h1M66 525.5h1M66 526.5h1M66 529.5h1M66 531.5h1M66 532.5h1M66 536.5h1M66 539.5h1M66 544.5h1M67 465.5h1M67 468.5h1M67 469.5h1M67 470.5h1M67 472.5h1M67 473.5h1M67 474.5h1M67 475.5h1M67 477.5h1M67 478.5h1M67 479.5h1M67 481.5h1M67 482.5h1M67 483.5h1M67 484.5h1M67 485.5h1M67 486.5h1M67 487.5h1M67 488.5h1M67 489.5h1M67 491.5h1M67 492.5h1M67 493.5h1M67 494.5h1M67 496.5h1M67 497.5h1M67 498.5h1M67 499.5h1M67 500.5h1M67 501.5h1M67 502.5h1M67 503.5h1M67 504.5h1M67 505.5h1M67 506.5h1M67 507.5h1M67 508.5h1M67 509.5h1M67 510.5h1M67 511.5h1M67 512.5h1M67 513.5h1M67 514.5h1M67 515.5h1M67 516.5h1M67 517.5h1M67 518.5h1M67 520.5h1M67 521.5h1M67 522.5h1M67 523.5h1M67 524.5h1M67 525.5h1M67 527.5h1M67 528.5h1M67 535.5h1M67 546.5h1M68 466.5h1M68 468.5h1M68 469.5h1M68 470.5h1M68 473.5h1M68 474.5h1M68 475.5h1M68 477.5h1M68 478.5h1M68 481.5h1M68 483.5h1M68 484.5h1M68 485.5h1M68 488.5h1M68 489.5h1M68 490.5h1M68 492.5h1M68 493.5h1M68 494.5h1M68 495.5h1M68 496.5h1M68 497.5h1M68 498.5h1M68 499.5h1M68 500.5h1M68 501.5h1M68 502.5h1M68 503.5h1M68 505.5h1M68 506.5h1M68 507.5h1M68 508.5h1M68 509.5h1M68 510.5h1M68 511.5h1M68 512.5h1M68 513.5h1M68 514.5h1M68 515.5h1M68 516.5h1M68 517.5h1M68 518.5h1M68 520.5h1M68 521.5h1M68 522.5h1M68 524.5h1M68 526.5h1M68 527.5h1M68 529.5h1M68 531.5h1M69 463.5h1M69 465.5h1M69 466.5h1M69 468.5h1M69 470.5h1M69 473.5h1M69 476.5h1M69 477.5h1M69 481.5h1M69 483.5h1M69 485.5h1M69 488.5h1M69 489.5h1M69 491.5h1M69 492.5h1M69 493.5h1M69 494.5h1M69 495.5h1M69 496.5h1M69 497.5h1M69 498.5h1M69 499.5h1M69 500.5h1M69 501.5h1M69 502.5h1M69 503.5h1M69 505.5h1M69 506.5h1M69 507.5h1M69 509.5h1M69 510.5h1M69 511.5h1M69 512.5h1M69 513.5h1M69 514.5h1M69 515.5h1M69 516.5h1M69 517.5h1M69 518.5h1M69 519.5h1M69 520.5h1M69 521.5h1M69 522.5h1M69 523.5h1M69 524.5h1M69 525.5h1M69 527.5h1M69 529.5h1M69 530.5h1M70 461.5h1M70 462.5h1M70 466.5h1M70 470.5h1M70 471.5h1M70 473.5h1M70 474.5h1M70 478.5h1M70 481.5h1M70 482.5h1M70 484.5h1M70 485.5h1M70 486.5h1M70 487.5h1M70 488.5h1M70 489.5h1M70 490.5h1M70 491.5h1M70 492.5h1M70 495.5h1M70 496.5h1M70 497.5h1M70 498.5h1M70 499.5h1M70 500.5h1M70 501.5h1M70 502.5h1M70 503.5h1M70 504.5h1M70 505.5h1M70 506.5h1M70 508.5h1M70 509.5h1M70 510.5h1M70 511.5h1M70 512.5h1M70 514.5h1M70 515.5h1M70 516.5h1M70 517.5h1M70 518.5h1M70 519.5h1M70 520.5h1M70 521.5h1M70 522.5h1M70 523.5h1M70 524.5h1M70 525.5h1M70 526.5h1M70 527.5h1M70 530.5h1M70 540.5h1M70 558.5h1M71 464.5h1M71 465.5h1M71 469.5h1M71 470.5h1M71 471.5h1M71 472.5h1M71 476.5h1M71 478.5h1M71 488.5h1M71 489.5h1M71 490.5h1M71 492.5h1M71 494.5h1M71 495.5h1M71 497.5h1M71 498.5h1M71 499.5h1M71 500.5h1M71 501.5h1M71 502.5h1M71 503.5h1M71 504.5h1M71 505.5h1M71 506.5h1M71 507.5h1M71 508.5h1M71 509.5h1M71 510.5h1M71 511.5h1M71 512.5h1M71 513.5h1M71 514.5h1M71 516.5h1M71 517.5h1M71 518.5h1M71 519.5h1M71 520.5h1M71 521.5h1M71 523.5h1M71 524.5h1M71 527.5h1M71 530.5h1M71 532.5h1M71 539.5h1M71 545.5h1M72 456.5h1M72 464.5h1M72 465.5h1M72 466.5h1M72 467.5h1M72 468.5h1M72 469.5h1M72 471.5h1M72 472.5h1M72 476.5h1M72 477.5h1M72 478.5h1M72 485.5h1M72 486.5h1M72 487.5h1M72 488.5h1M72 489.5h1M72 490.5h1M72 491.5h1M72 492.5h1M72 493.5h1M72 494.5h1M72 495.5h1M72 496.5h1M72 497.5h1M72 498.5h1M72 499.5h1M72 500.5h1M72 501.5h1M72 502.5h1M72 503.5h1M72 504.5h1M72 505.5h1M72 506.5h1M72 507.5h1M72 508.5h1M72 509.5h1M72 510.5h1M72 511.5h1M72 512.5h1M72 513.5h1M72 514.5h1M72 515.5h1M72 516.5h1M72 517.5h1M72 518.5h1M72 522.5h1M72 523.5h1M72 524.5h1M72 525.5h1M72 526.5h1M72 527.5h1M72 528.5h1M72 530.5h1M72 531.5h1M72 533.5h1M72 535.5h1M72 536.5h1M72 538.5h1M72 541.5h1M72 543.5h1M72 547.5h1M73 466.5h1M73 469.5h1M73 470.5h1M73 472.5h1M73 479.5h1M73 481.5h1M73 483.5h1M73 489.5h1M73 491.5h1M73 493.5h1M73 494.5h1M73 495.5h1M73 496.5h1M73 497.5h1M73 498.5h1M73 499.5h1M73 500.5h1M73 501.5h1M73 502.5h1M73 503.5h1M73 504.5h1M73 505.5h1M73 506.5h1M73 507.5h1M73 508.5h1M73 509.5h1M73 510.5h1M73 511.5h1M73 512.5h1M73 513.5h1M73 514.5h1M73 515.5h1M73 516.5h1M73 517.5h1M73 518.5h1M73 519.5h1M73 520.5h1M73 521.5h1M73 522.5h1M73 524.5h1M73 525.5h1M73 526.5h1M73 527.5h1M73 529.5h1M73 530.5h1M73 531.5h1M73 541.5h1M73 551.5h1M74 462.5h1M74 465.5h1M74 467.5h1M74 471.5h1M74 473.5h1M74 477.5h1M74 482.5h1M74 487.5h1M74 489.5h1M74 490.5h1M74 491.5h1M74 493.5h1M74 494.5h1M74 495.5h1M74 497.5h1M74 498.5h1M74 500.5h1M74 501.5h1M74 502.5h1M74 503.5h1M74 504.5h1M74 505.5h1M74 506.5h1M74 507.5h1M74 509.5h1M74 511.5h1M74 512.5h1M74 513.5h1M74 514.5h1M74 515.5h1M74 516.5h1M74 518.5h1M74 519.5h1M74 520.5h1M74 521.5h1M74 523.5h1M74 524.5h1M74 525.5h1M74 526.5h1M74 527.5h1M74 528.5h1M74 529.5h1M74 531.5h1M74 534.5h1M74 539.5h1M75 418.5h1M75 473.5h1M75 478.5h1M75 487.5h1M75 488.5h1M75 489.5h1M75 490.5h1M75 491.5h1M75 493.5h1M75 494.5h1M75 495.5h1M75 496.5h1M75 497.5h1M75 498.5h1M75 499.5h1M75 500.5h1M75 501.5h1M75 503.5h1M75 504.5h1M75 505.5h1M75 506.5h1M75 507.5h1M75 509.5h1M75 510.5h1M75 511.5h1M75 512.5h1M75 513.5h1M75 514.5h1M75 515.5h1M75 516.5h1M75 519.5h1M75 520.5h1M75 521.5h1M75 523.5h1M75 524.5h1M75 525.5h1M75 527.5h1M75 528.5h1M75 529.5h1M75 531.5h1M75 534.5h1M75 535.5h1M75 537.5h1M76 469.5h1M76 473.5h1M76 476.5h1M76 484.5h1M76 486.5h1M76 488.5h1M76 489.5h1M76 490.5h1M76 491.5h1M76 492.5h1M76 493.5h1M76 494.5h1M76 495.5h1M76 496.5h1M76 497.5h1M76 498.5h1M76 499.5h1M76 500.5h1M76 502.5h1M76 503.5h1M76 504.5h1M76 505.5h1M76 506.5h1M76 507.5h1M76 509.5h1M76 510.5h1M76 511.5h1M76 512.5h1M76 513.5h1M76 514.5h1M76 516.5h1M76 517.5h1M76 518.5h1M76 519.5h1M76 520.5h1M76 521.5h1M76 522.5h1M76 523.5h1M76 524.5h1M76 525.5h1M76 526.5h1M76 528.5h1M76 529.5h1M76 531.5h1M76 533.5h1M76 535.5h1M76 547.5h1M76 549.5h1M76 563.5h1M77 467.5h1M77 478.5h1M77 482.5h1M77 486.5h1M77 487.5h1M77 490.5h1M77 491.5h1M77 492.5h1M77 493.5h1M77 495.5h1M77 496.5h1M77 497.5h1M77 498.5h1M77 500.5h1M77 502.5h1M77 503.5h1M77 505.5h1M77 506.5h1M77 507.5h1M77 508.5h1M77 509.5h1M77 510.5h1M77 511.5h1M77 512.5h1M77 514.5h1M77 515.5h1M77 516.5h1M77 518.5h1M77 519.5h1M77 520.5h1M77 521.5h1M77 522.5h1M77 523.5h1M77 524.5h1M77 527.5h1M77 529.5h1M77 530.5h1M77 531.5h1M77 532.5h1M77 540.5h1M78 440.5h1M78 458.5h1M78 461.5h1M78 465.5h1M78 467.5h1M78 468.5h1M78 471.5h1M78 485.5h1M78 487.5h1M78 488.5h1M78 489.5h1M78 490.5h1M78 491.5h1M78 492.5h1M78 493.5h1M78 494.5h1M78 495.5h1M78 496.5h1M78 498.5h1M78 499.5h1M78 500.5h1M78 501.5h1M78 502.5h1M78 503.5h1M78 504.5h1M78 505.5h1M78 506.5h1M78 508.5h1M78 509.5h1M78 510.5h1M78 511.5h1M78 512.5h1M78 513.5h1M78 514.5h1M78 516.5h1M78 517.5h1M78 518.5h1M78 519.5h1M78 520.5h1M78 521.5h1M78 522.5h1M78 523.5h1M78 524.5h1M78 525.5h1M78 526.5h1M78 528.5h1M78 529.5h1M78 530.5h1M78 531.5h1M78 532.5h1M78 535.5h1M78 537.5h1M79 425.5h1M79 447.5h1M79 450.5h1M79 451.5h1M79 453.5h1M79 461.5h1M79 471.5h1M79 473.5h1M79 477.5h1M79 484.5h1M79 485.5h1M79 486.5h1M79 488.5h1M79 489.5h1M79 491.5h1M79 492.5h1M79 494.5h1M79 495.5h1M79 498.5h1M79 499.5h1M79 500.5h1M79 501.5h1M79 502.5h1M79 503.5h1M79 504.5h1M79 505.5h1M79 506.5h1M79 507.5h1M79 509.5h1M79 510.5h1M79 511.5h1M79 512.5h1M79 513.5h1M79 514.5h1M79 517.5h1M79 518.5h1M79 519.5h1M79 520.5h1M79 521.5h1M79 522.5h1M79 524.5h1M79 525.5h1M79 526.5h1M79 527.5h1M79 529.5h1M79 536.5h1M79 537.5h1M79 539.5h1M79 547.5h1M80 428.5h1M80 440.5h1M80 448.5h1M80 454.5h1M80 459.5h1M80 460.5h1M80 467.5h1M80 468.5h1M80 469.5h1M80 472.5h1M80 475.5h1M80 482.5h1M80 486.5h1M80 487.5h1M80 490.5h1M80 491.5h1M80 492.5h1M80 494.5h1M80 495.5h1M80 496.5h1M80 497.5h1M80 498.5h1M80 499.5h1M80 500.5h1M80 501.5h1M80 503.5h1M80 505.5h1M80 506.5h1M80 507.5h1M80 508.5h1M80 509.5h1M80 510.5h1M80 511.5h1M80 512.5h1M80 513.5h1M80 514.5h1M80 516.5h1M80 517.5h1M80 519.5h1M80 520.5h1M80 521.5h1M80 522.5h1M80 523.5h1M80 524.5h1M80 525.5h1M80 526.5h1M80 527.5h1M80 528.5h1M80 530.5h1M80 532.5h1M80 534.5h1M80 536.5h1M80 540.5h1M80 542.5h1M80 546.5h1M80 555.5h1M80 565.5h1M81 433.5h1M81 443.5h1M81 447.5h1M81 453.5h1M81 456.5h1M81 463.5h1M81 474.5h1M81 488.5h1M81 490.5h1M81 491.5h1M81 494.5h1M81 495.5h1M81 496.5h1M81 497.5h1M81 498.5h1M81 499.5h1M81 501.5h1M81 502.5h1M81 503.5h1M81 504.5h1M81 505.5h1M81 506.5h1M81 507.5h1M81 508.5h1M81 510.5h1M81 511.5h1M81 512.5h1M81 513.5h1M81 514.5h1M81 515.5h1M81 516.5h1M81 517.5h1M81 518.5h1M81 519.5h1M81 520.5h1M81 521.5h1M81 522.5h1M81 523.5h1M81 524.5h1M81 526.5h1M81 527.5h1M81 528.5h1M81 529.5h1M81 531.5h1M81 532.5h1M81 536.5h1M81 537.5h1M81 538.5h1M82 434.5h1M82 443.5h1M82 444.5h1M82 448.5h1M82 452.5h1M82 457.5h1M82 461.5h1M82 463.5h1M82 466.5h1M82 469.5h1M82 473.5h1M82 474.5h1M82 483.5h1M82 486.5h1M82 487.5h1M82 488.5h1M82 489.5h1M82 490.5h1M82 491.5h1M82 492.5h1M82 493.5h1M82 494.5h1M82 495.5h1M82 497.5h1M82 498.5h1M82 499.5h1M82 500.5h1M82 501.5h1M82 503.5h1M82 504.5h1M82 505.5h1M82 507.5h1M82 508.5h1M82 509.5h1M82 510.5h1M82 512.5h1M82 513.5h1M82 514.5h1M82 515.5h1M82 516.5h1M82 517.5h1M82 518.5h1M82 519.5h1M82 520.5h1M82 521.5h1M82 523.5h1M82 524.5h1M82 525.5h1M82 527.5h1M82 528.5h1M82 529.5h1M82 530.5h1M82 531.5h1M82 533.5h1M82 534.5h1M82 535.5h1M82 536.5h1M82 537.5h1M82 538.5h1M82 539.5h1M82 544.5h1M82 545.5h1M83 422.5h1M83 428.5h1M83 441.5h1M83 456.5h1M83 457.5h1M83 459.5h1M83 462.5h1M83 469.5h1M83 471.5h1M83 473.5h1M83 484.5h1M83 486.5h1M83 487.5h1M83 488.5h1M83 489.5h1M83 490.5h1M83 491.5h1M83 492.5h1M83 493.5h1M83 495.5h1M83 496.5h1M83 497.5h1M83 498.5h1M83 499.5h1M83 501.5h1M83 502.5h1M83 503.5h1M83 504.5h1M83 505.5h1M83 506.5h1M83 507.5h1M83 508.5h1M83 509.5h1M83 510.5h1M83 511.5h1M83 512.5h1M83 514.5h1M83 515.5h1M83 516.5h1M83 517.5h1M83 518.5h1M83 519.5h1M83 520.5h1M83 521.5h1M83 522.5h1M83 524.5h1M83 525.5h1M83 526.5h1M83 527.5h1M83 528.5h1M83 529.5h1M83 530.5h1M83 532.5h1M83 533.5h1M83 534.5h1M83 535.5h1M83 536.5h1M83 537.5h1M83 538.5h1M83 539.5h1M83 542.5h1M83 543.5h1M83 545.5h1M83 547.5h1M84 434.5h1M84 442.5h1M84 447.5h1M84 448.5h1M84 450.5h1M84 456.5h1M84 469.5h1M84 470.5h1M84 471.5h1M84 473.5h1M84 474.5h1M84 479.5h1M84 481.5h1M84 485.5h1M84 486.5h1M84 487.5h1M84 488.5h1M84 492.5h1M84 493.5h1M84 494.5h1M84 495.5h1M84 496.5h1M84 497.5h1M84 498.5h1M84 499.5h1M84 500.5h1M84 504.5h1M84 506.5h1M84 507.5h1M84 509.5h1M84 510.5h1M84 512.5h1M84 513.5h1M84 514.5h1M84 515.5h1M84 516.5h1M84 517.5h1M84 518.5h1M84 519.5h1M84 520.5h1M84 521.5h1M84 523.5h1M84 524.5h1M84 526.5h1M84 528.5h1M84 529.5h1M84 530.5h1M84 531.5h1M84 532.5h1M84 533.5h1M84 534.5h1M84 535.5h1M84 536.5h1M84 538.5h1M84 540.5h1M84 542.5h1M84 543.5h1M84 544.5h1M84 545.5h1M84 548.5h1M84 552.5h1M84 554.5h1M84 561.5h1M85 424.5h1M85 432.5h1M85 435.5h1M85 439.5h1M85 441.5h1M85 442.5h1M85 448.5h1M85 455.5h1M85 456.5h1M85 457.5h1M85 464.5h1M85 467.5h1M85 482.5h1M85 486.5h1M85 487.5h1M85 488.5h1M85 489.5h1M85 490.5h1M85 491.5h1M85 493.5h1M85 494.5h1M85 495.5h1M85 496.5h1M85 497.5h1M85 498.5h1M85 499.5h1M85 500.5h1M85 501.5h1M85 502.5h1M85 503.5h1M85 504.5h1M85 505.5h1M85 506.5h1M85 507.5h1M85 508.5h1M85 509.5h1M85 511.5h1M85 512.5h1M85 513.5h1M85 514.5h1M85 517.5h1M85 518.5h1M85 519.5h1M85 520.5h1M85 522.5h1M85 523.5h1M85 524.5h1M85 525.5h1M85 526.5h1M85 528.5h1M85 529.5h1M85 531.5h1M85 532.5h1M85 533.5h1M85 534.5h1M85 535.5h1M85 536.5h1M85 537.5h1M85 538.5h1M85 539.5h1M85 540.5h1M85 541.5h1M85 542.5h1M85 543.5h1M85 544.5h1M85 545.5h1M85 555.5h1M85 558.5h1M86 423.5h1M86 431.5h1M86 432.5h1M86 441.5h1M86 443.5h1M86 448.5h1M86 454.5h1M86 462.5h1M86 463.5h1M86 468.5h1M86 470.5h1M86 485.5h1M86 486.5h1M86 487.5h1M86 488.5h1M86 490.5h1M86 492.5h1M86 493.5h1M86 494.5h1M86 496.5h1M86 497.5h1M86 498.5h1M86 499.5h1M86 500.5h1M86 502.5h1M86 503.5h1M86 505.5h1M86 507.5h1M86 508.5h1M86 509.5h1M86 510.5h1M86 511.5h1M86 512.5h1M86 513.5h1M86 514.5h1M86 515.5h1M86 516.5h1M86 518.5h1M86 519.5h1M86 520.5h1M86 522.5h1M86 523.5h1M86 524.5h1M86 525.5h1M86 526.5h1M86 527.5h1M86 528.5h1M86 529.5h1M86 530.5h1M86 531.5h1M86 532.5h1M86 533.5h1M86 534.5h1M86 535.5h1M86 536.5h1M86 537.5h1M86 538.5h1M86 540.5h1M86 541.5h1M86 542.5h1M86 543.5h1M86 544.5h1M86 546.5h1M86 547.5h1M86 548.5h1M86 549.5h1M86 552.5h1M86 554.5h1M86 556.5h1M86 558.5h1M87 416.5h1M87 429.5h1M87 442.5h1M87 460.5h1M87 463.5h1M87 464.5h1M87 465.5h1M87 466.5h1M87 469.5h1M87 470.5h1M87 472.5h1M87 473.5h1M87 477.5h1M87 481.5h1M87 483.5h1M87 485.5h1M87 488.5h1M87 490.5h1M87 491.5h1M87 492.5h1M87 493.5h1M87 494.5h1M87 495.5h1M87 498.5h1M87 500.5h1M87 501.5h1M87 502.5h1M87 503.5h1M87 504.5h1M87 505.5h1M87 506.5h1M87 508.5h1M87 509.5h1M87 510.5h1M87 511.5h1M87 513.5h1M87 514.5h1M87 515.5h1M87 516.5h1M87 517.5h1M87 518.5h1M87 519.5h1M87 520.5h1M87 521.5h1M87 522.5h1M87 523.5h1M87 524.5h1M87 525.5h1M87 526.5h1M87 527.5h1M87 528.5h1M87 529.5h1M87 530.5h1M87 531.5h1M87 532.5h1M87 533.5h1M87 536.5h1M87 539.5h1M87 540.5h1M87 541.5h1M87 542.5h1M87 543.5h1M87 544.5h1M87 545.5h1M87 546.5h1M87 547.5h1M87 548.5h1M87 549.5h1M87 550.5h1M87 551.5h1M87 552.5h1M87 554.5h1M87 555.5h1M87 558.5h1M87 567.5h1M88 415.5h1M88 419.5h1M88 426.5h1M88 428.5h1M88 432.5h1M88 433.5h1M88 437.5h1M88 442.5h1M88 444.5h1M88 445.5h1M88 446.5h1M88 447.5h1M88 456.5h1M88 460.5h1M88 463.5h1M88 466.5h1M88 467.5h1M88 468.5h1M88 474.5h1M88 485.5h1M88 486.5h1M88 487.5h1M88 488.5h1M88 489.5h1M88 490.5h1M88 491.5h1M88 493.5h1M88 494.5h1M88 495.5h1M88 496.5h1M88 497.5h1M88 498.5h1M88 499.5h1M88 500.5h1M88 501.5h1M88 503.5h1M88 504.5h1M88 505.5h1M88 506.5h1M88 508.5h1M88 509.5h1M88 510.5h1M88 511.5h1M88 512.5h1M88 513.5h1M88 515.5h1M88 516.5h1M88 517.5h1M88 518.5h1M88 519.5h1M88 520.5h1M88 521.5h1M88 522.5h1M88 523.5h1M88 524.5h1M88 526.5h1M88 528.5h1M88 529.5h1M88 530.5h1M88 531.5h1M88 532.5h1M88 533.5h1M88 534.5h1M88 535.5h1M88 537.5h1M88 538.5h1M88 539.5h1M88 540.5h1M88 541.5h1M88 542.5h1M88 543.5h1M88 545.5h1M88 546.5h1M88 547.5h1M88 548.5h1M88 549.5h1M88 551.5h1M88 553.5h1M88 556.5h1M88 558.5h1M88 559.5h1M88 562.5h1M88 565.5h1M89 410.5h1M89 422.5h1M89 423.5h1M89 426.5h1M89 432.5h1M89 434.5h1M89 437.5h1M89 446.5h1M89 448.5h1M89 451.5h1M89 454.5h1M89 455.5h1M89 457.5h1M89 458.5h1M89 461.5h1M89 464.5h1M89 466.5h1M89 468.5h1M89 469.5h1M89 472.5h1M89 485.5h1M89 487.5h1M89 488.5h1M89 489.5h1M89 490.5h1M89 491.5h1M89 493.5h1M89 495.5h1M89 497.5h1M89 498.5h1M89 500.5h1M89 501.5h1M89 502.5h1M89 503.5h1M89 504.5h1M89 505.5h1M89 507.5h1M89 508.5h1M89 509.5h1M89 510.5h1M89 512.5h1M89 513.5h1M89 515.5h1M89 516.5h1M89 517.5h1M89 518.5h1M89 519.5h1M89 520.5h1M89 522.5h1M89 523.5h1M89 524.5h1M89 526.5h1M89 527.5h1M89 528.5h1M89 529.5h1M89 530.5h1M89 531.5h1M89 532.5h1M89 533.5h1M89 534.5h1M89 535.5h1M89 536.5h1M89 537.5h1M89 538.5h1M89 539.5h1M89 540.5h1M89 541.5h1M89 542.5h1M89 545.5h1M89 547.5h1M89 548.5h1M89 549.5h1M89 550.5h1M89 554.5h1M89 557.5h1M89 559.5h1M89 564.5h1M89 567.5h1M90 415.5h1M90 417.5h1M90 428.5h1M90 429.5h1M90 434.5h1M90 437.5h1M90 445.5h1M90 447.5h1M90 449.5h1M90 452.5h1M90 457.5h1M90 461.5h1M90 463.5h1M90 464.5h1M90 466.5h1M90 468.5h1M90 470.5h1M90 473.5h1M90 484.5h1M90 486.5h1M90 487.5h1M90 488.5h1M90 489.5h1M90 490.5h1M90 491.5h1M90 494.5h1M90 496.5h1M90 498.5h1M90 499.5h1M90 501.5h1M90 502.5h1M90 503.5h1M90 505.5h1M90 506.5h1M90 507.5h1M90 508.5h1M90 509.5h1M90 510.5h1M90 512.5h1M90 513.5h1M90 515.5h1M90 517.5h1M90 518.5h1M90 519.5h1M90 520.5h1M90 521.5h1M90 522.5h1M90 523.5h1M90 524.5h1M90 525.5h1M90 526.5h1M90 527.5h1M90 528.5h1M90 529.5h1M90 530.5h1M90 532.5h1M90 533.5h1M90 534.5h1M90 535.5h1M90 537.5h1M90 538.5h1M90 539.5h1M90 540.5h1M90 541.5h1M90 542.5h1M90 543.5h1M90 544.5h1M90 545.5h1M90 546.5h1M90 547.5h1M90 548.5h1M90 549.5h1M90 550.5h1M90 551.5h1M90 553.5h1M90 554.5h1M90 556.5h1M90 560.5h1M90 563.5h1M90 565.5h1M91 409.5h1M91 415.5h1M91 417.5h1M91 422.5h1M91 424.5h1M91 427.5h1M91 432.5h1M91 437.5h1M91 441.5h1M91 446.5h1M91 447.5h1M91 451.5h1M91 452.5h1M91 455.5h1M91 457.5h1M91 461.5h1M91 465.5h1M91 466.5h1M91 467.5h1M91 468.5h1M91 488.5h1M91 490.5h1M91 491.5h1M91 493.5h1M91 494.5h1M91 495.5h1M91 498.5h1M91 499.5h1M91 501.5h1M91 502.5h1M91 503.5h1M91 504.5h1M91 505.5h1M91 506.5h1M91 507.5h1M91 510.5h1M91 511.5h1M91 512.5h1M91 513.5h1M91 515.5h1M91 516.5h1M91 517.5h1M91 518.5h1M91 519.5h1M91 520.5h1M91 521.5h1M91 522.5h1M91 523.5h1M91 524.5h1M91 525.5h1M91 526.5h1M91 528.5h1M91 529.5h1M91 530.5h1M91 531.5h1M91 532.5h1M91 534.5h1M91 535.5h1M91 536.5h1M91 537.5h1M91 538.5h1M91 539.5h1M91 541.5h1M91 542.5h1M91 543.5h1M91 545.5h1M91 546.5h1M91 553.5h1M91 555.5h1M91 556.5h1M91 557.5h1M91 558.5h1M91 560.5h1M91 566.5h1M92 410.5h1M92 414.5h1M92 416.5h1M92 417.5h1M92 423.5h1M92 424.5h1M92 430.5h1M92 431.5h1M92 433.5h1M92 437.5h1M92 442.5h1M92 450.5h1M92 451.5h1M92 452.5h1M92 454.5h1M92 455.5h1M92 460.5h1M92 462.5h1M92 465.5h1M92 467.5h1M92 468.5h1M92 469.5h1M92 471.5h1M92 473.5h1M92 474.5h1M92 486.5h1M92 487.5h1M92 488.5h1M92 489.5h1M92 491.5h1M92 492.5h1M92 493.5h1M92 494.5h1M92 495.5h1M92 496.5h1M92 497.5h1M92 499.5h1M92 500.5h1M92 501.5h1M92 502.5h1M92 504.5h1M92 506.5h1M92 507.5h1M92 508.5h1M92 509.5h1M92 510.5h1M92 511.5h1M92 512.5h1M92 513.5h1M92 515.5h1M92 516.5h1M92 517.5h1M92 520.5h1M92 521.5h1M92 522.5h1M92 524.5h1M92 525.5h1M92 526.5h1M92 528.5h1M92 530.5h1M92 531.5h1M92 533.5h1M92 534.5h1M92 535.5h1M92 536.5h1M92 537.5h1M92 538.5h1M92 539.5h1M92 540.5h1M92 541.5h1M92 542.5h1M92 543.5h1M92 544.5h1M92 546.5h1M92 551.5h1M92 552.5h1M92 566.5h1M93 418.5h1M93 419.5h1M93 422.5h1M93 425.5h1M93 427.5h1M93 428.5h1M93 437.5h1M93 440.5h1M93 442.5h1M93 447.5h1M93 457.5h1M93 459.5h1M93 464.5h1M93 467.5h1M93 473.5h1M93 485.5h1M93 489.5h1M93 490.5h1M93 491.5h1M93 492.5h1M93 494.5h1M93 495.5h1M93 496.5h1M93 497.5h1M93 498.5h1M93 499.5h1M93 501.5h1M93 503.5h1M93 504.5h1M93 505.5h1M93 506.5h1M93 508.5h1M93 509.5h1M93 510.5h1M93 511.5h1M93 512.5h1M93 513.5h1M93 515.5h1M93 516.5h1M93 517.5h1M93 518.5h1M93 519.5h1M93 520.5h1M93 521.5h1M93 523.5h1M93 524.5h1M93 525.5h1M93 527.5h1M93 528.5h1M93 529.5h1M93 531.5h1M93 532.5h1M93 534.5h1M93 535.5h1M93 536.5h1M93 538.5h1M93 541.5h1M93 545.5h1M93 556.5h1M93 559.5h1M94 409.5h1M94 418.5h1M94 423.5h1M94 425.5h1M94 428.5h1M94 432.5h1M94 439.5h1M94 442.5h1M94 446.5h1M94 447.5h1M94 450.5h1M94 456.5h1M94 458.5h1M94 460.5h1M94 463.5h1M94 464.5h1M94 466.5h1M94 469.5h1M94 470.5h1M94 473.5h1M94 487.5h1M94 490.5h1M94 492.5h1M94 494.5h1M94 495.5h1M94 496.5h1M94 498.5h1M94 500.5h1M94 503.5h1M94 504.5h1M94 505.5h1M94 506.5h1M94 509.5h1M94 510.5h1M94 511.5h1M94 512.5h1M94 513.5h1M94 515.5h1M94 517.5h1M94 518.5h1M94 519.5h1M94 520.5h1M94 521.5h1M94 522.5h1M94 523.5h1M94 524.5h1M94 525.5h1M94 526.5h1M94 527.5h1M94 528.5h1M94 529.5h1M94 530.5h1M94 532.5h1M94 533.5h1M94 534.5h1M94 535.5h1M94 536.5h1M94 537.5h1M94 538.5h1M94 539.5h1M94 544.5h1M94 548.5h1M94 557.5h1M95 411.5h1M95 413.5h1M95 416.5h1M95 418.5h1M95 420.5h1M95 425.5h1M95 431.5h1M95 432.5h1M95 443.5h1M95 444.5h1M95 445.5h1M95 448.5h1M95 451.5h1M95 456.5h1M95 462.5h1M95 467.5h1M95 468.5h1M95 469.5h1M95 470.5h1M95 471.5h1M95 484.5h1M95 487.5h1M95 488.5h1M95 490.5h1M95 491.5h1M95 492.5h1M95 493.5h1M95 494.5h1M95 495.5h1M95 496.5h1M95 497.5h1M95 498.5h1M95 499.5h1M95 500.5h1M95 501.5h1M95 502.5h1M95 503.5h1M95 504.5h1M95 505.5h1M95 506.5h1M95 507.5h1M95 508.5h1M95 510.5h1M95 511.5h1M95 512.5h1M95 513.5h1M95 515.5h1M95 516.5h1M95 519.5h1M95 521.5h1M95 522.5h1M95 523.5h1M95 524.5h1M95 526.5h1M95 527.5h1M95 528.5h1M95 530.5h1M95 531.5h1M95 532.5h1M95 533.5h1M95 534.5h1M95 535.5h1M95 537.5h1M95 538.5h1M95 540.5h1M95 542.5h1M95 546.5h1M95 550.5h1M95 555.5h1M96 405.5h1M96 411.5h1M96 413.5h1M96 418.5h1M96 420.5h1M96 424.5h1M96 426.5h1M96 433.5h1M96 439.5h1M96 441.5h1M96 446.5h1M96 447.5h1M96 448.5h1M96 449.5h1M96 452.5h1M96 454.5h1M96 462.5h1M96 463.5h1M96 469.5h1M96 471.5h1M96 473.5h1M96 485.5h1M96 488.5h1M96 489.5h1M96 492.5h1M96 493.5h1M96 494.5h1M96 495.5h1M96 496.5h1M96 497.5h1M96 498.5h1M96 499.5h1M96 500.5h1M96 502.5h1M96 503.5h1M96 504.5h1M96 505.5h1M96 506.5h1M96 507.5h1M96 509.5h1M96 510.5h1M96 512.5h1M96 513.5h1M96 514.5h1M96 515.5h1M96 518.5h1M96 519.5h1M96 520.5h1M96 521.5h1M96 523.5h1M96 524.5h1M96 525.5h1M96 526.5h1M96 528.5h1M96 529.5h1M96 530.5h1M96 532.5h1M96 533.5h1M96 534.5h1M96 535.5h1M96 537.5h1M96 538.5h1M96 541.5h1M97 405.5h1M97 412.5h1M97 416.5h1M97 419.5h1M97 422.5h1M97 426.5h1M97 429.5h1M97 430.5h1M97 437.5h1M97 439.5h1M97 441.5h1M97 443.5h1M97 449.5h1M97 452.5h1M97 456.5h1M97 458.5h1M97 464.5h1M97 465.5h1M97 466.5h1M97 468.5h1M97 470.5h1M97 471.5h1M97 481.5h1M97 486.5h1M97 487.5h1M97 488.5h1M97 489.5h1M97 491.5h1M97 492.5h1M97 493.5h1M97 494.5h1M97 495.5h1M97 497.5h1M97 498.5h1M97 499.5h1M97 500.5h1M97 501.5h1M97 502.5h1M97 503.5h1M97 504.5h1M97 505.5h1M97 508.5h1M97 509.5h1M97 510.5h1M97 514.5h1M97 515.5h1M97 516.5h1M97 517.5h1M97 520.5h1M97 521.5h1M97 522.5h1M97 525.5h1M97 526.5h1M97 527.5h1M97 528.5h1M97 529.5h1M97 531.5h1M97 535.5h1M97 537.5h1M97 538.5h1M98 411.5h1M98 421.5h1M98 422.5h1M98 423.5h1M98 425.5h1M98 426.5h1M98 432.5h1M98 433.5h1M98 434.5h1M98 440.5h1M98 443.5h1M98 445.5h1M98 450.5h1M98 464.5h1M98 469.5h1M98 473.5h1M98 484.5h1M98 485.5h1M98 488.5h1M98 490.5h1M98 492.5h1M98 493.5h1M98 494.5h1M98 496.5h1M98 497.5h1M98 498.5h1M98 499.5h1M98 500.5h1M98 501.5h1M98 502.5h1M98 503.5h1M98 504.5h1M98 505.5h1M98 508.5h1M98 510.5h1M98 511.5h1M98 512.5h1M98 514.5h1M98 515.5h1M98 516.5h1M98 517.5h1M98 518.5h1M98 519.5h1M98 520.5h1M98 521.5h1M98 522.5h1M98 523.5h1M98 524.5h1M98 525.5h1M98 526.5h1M98 527.5h1M98 528.5h1M98 530.5h1M98 531.5h1M98 532.5h1M98 533.5h1M98 537.5h1M98 540.5h1M99 403.5h1M99 410.5h1M99 411.5h1M99 412.5h1M99 414.5h1M99 422.5h1M99 424.5h1M99 435.5h1M99 437.5h1M99 447.5h1M99 457.5h1M99 459.5h1M99 484.5h1M99 490.5h1M99 491.5h1M99 496.5h1M99 497.5h1M99 498.5h1M99 499.5h1M99 500.5h1M99 501.5h1M99 502.5h1M99 503.5h1M99 504.5h1M99 505.5h1M99 506.5h1M99 509.5h1M99 510.5h1M99 511.5h1M99 512.5h1M99 513.5h1M99 514.5h1M99 515.5h1M99 516.5h1M99 517.5h1M99 519.5h1M99 520.5h1M99 523.5h1M99 524.5h1M99 525.5h1M99 526.5h1M99 527.5h1M99 528.5h1M99 529.5h1M99 530.5h1M99 531.5h1M99 532.5h1M99 533.5h1M99 538.5h1M99 540.5h1M100 405.5h1M100 413.5h1M100 422.5h1M100 423.5h1M100 425.5h1M100 426.5h1M100 432.5h1M100 433.5h1M100 434.5h1M100 435.5h1M100 439.5h1M100 441.5h1M100 442.5h1M100 444.5h1M100 448.5h1M100 458.5h1M100 460.5h1M100 465.5h1M100 466.5h1M100 467.5h1M100 485.5h1M100 488.5h1M100 493.5h1M100 494.5h1M100 496.5h1M100 497.5h1M100 498.5h1M100 499.5h1M100 500.5h1M100 501.5h1M100 502.5h1M100 503.5h1M100 505.5h1M100 507.5h1M100 508.5h1M100 509.5h1M100 511.5h1M100 512.5h1M100 513.5h1M100 514.5h1M100 515.5h1M100 516.5h1M100 517.5h1M100 519.5h1M100 520.5h1M100 521.5h1M100 522.5h1M100 523.5h1M100 524.5h1M100 526.5h1M100 528.5h1M100 529.5h1M100 530.5h1M100 535.5h1M100 536.5h1M100 542.5h1M101 401.5h1M101 410.5h1M101 414.5h1M101 415.5h1M101 417.5h1M101 418.5h1M101 421.5h1M101 425.5h1M101 431.5h1M101 432.5h1M101 436.5h1M101 437.5h1M101 438.5h1M101 439.5h1M101 441.5h1M101 453.5h1M101 461.5h1M101 467.5h1M101 474.5h1M101 482.5h1M101 487.5h1M101 489.5h1M101 490.5h1M101 496.5h1M101 499.5h1M101 501.5h1M101 502.5h1M101 503.5h1M101 504.5h1M101 505.5h1M101 506.5h1M101 507.5h1M101 508.5h1M101 509.5h1M101 511.5h1M101 512.5h1M101 513.5h1M101 515.5h1M101 516.5h1M101 518.5h1M101 519.5h1M101 520.5h1M101 521.5h1M101 524.5h1M101 526.5h1M101 527.5h1M101 528.5h1M101 540.5h1M102 405.5h1M102 406.5h1M102 416.5h1M102 417.5h1M102 420.5h1M102 425.5h1M102 427.5h1M102 429.5h1M102 431.5h1M102 436.5h1M102 438.5h1M102 442.5h1M102 444.5h1M102 445.5h1M102 446.5h1M102 448.5h1M102 453.5h1M102 459.5h1M102 461.5h1M102 465.5h1M102 466.5h1M102 468.5h1M102 472.5h1M102 490.5h1M102 503.5h1M102 504.5h1M102 506.5h1M102 507.5h1M102 509.5h1M102 510.5h1M102 512.5h1M102 513.5h1M102 514.5h1M102 515.5h1M102 516.5h1M102 518.5h1M102 519.5h1M102 525.5h1M102 528.5h1M102 535.5h1M103 400.5h1M103 407.5h1M103 411.5h1M103 413.5h1M103 415.5h1M103 416.5h1M103 421.5h1M103 423.5h1M103 425.5h1M103 426.5h1M103 427.5h1M103 428.5h1M103 430.5h1M103 431.5h1M103 432.5h1M103 434.5h1M103 444.5h1M103 447.5h1M103 449.5h1M103 465.5h1M103 466.5h1M103 470.5h1M103 472.5h1M103 498.5h1M103 504.5h1M103 511.5h1M103 512.5h1M103 514.5h1M103 515.5h1M103 516.5h1M103 517.5h1M103 518.5h1M104 400.5h1M104 401.5h1M104 410.5h1M104 411.5h1M104 412.5h1M104 413.5h1M104 416.5h1M104 417.5h1M104 421.5h1M104 422.5h1M104 424.5h1M104 425.5h1M104 429.5h1M104 435.5h1M104 440.5h1M104 449.5h1M104 451.5h1M104 460.5h1M104 463.5h1M104 470.5h1M104 472.5h1M104 490.5h1M104 500.5h1M104 503.5h1M104 504.5h1M104 507.5h1M104 509.5h1M104 511.5h1M104 513.5h1M104 514.5h1M104 515.5h1M104 522.5h1M104 523.5h1M104 525.5h1M104 527.5h1M105 403.5h1M105 406.5h1M105 407.5h1M105 408.5h1M105 415.5h1M105 417.5h1M105 420.5h1M105 423.5h1M105 426.5h1M105 433.5h1M105 439.5h1M105 447.5h1M105 450.5h1M105 457.5h1M105 459.5h1M105 464.5h1M105 465.5h1M105 487.5h1M105 490.5h1M105 495.5h1M105 502.5h1M105 506.5h1M105 508.5h1M105 510.5h1M105 512.5h1M105 518.5h1M105 519.5h1M105 521.5h1M105 527.5h1M105 528.5h1M106 395.5h1M106 398.5h1M106 402.5h1M106 403.5h1M106 405.5h1M106 406.5h1M106 414.5h1M106 416.5h1M106 422.5h1M106 426.5h1M106 429.5h1M106 449.5h1M106 456.5h1M106 457.5h1M106 459.5h1M106 460.5h1M106 470.5h1M106 477.5h1M106 487.5h1M106 492.5h1M106 494.5h1M106 496.5h1M106 502.5h1M106 504.5h1M106 506.5h1M106 515.5h1M106 520.5h1M106 527.5h1M107 396.5h1M107 402.5h1M107 408.5h1M107 413.5h1M107 415.5h1M107 421.5h1M107 422.5h1M107 423.5h1M107 424.5h1M107 426.5h1M107 428.5h1M107 429.5h1M107 437.5h1M107 460.5h1M107 470.5h1M107 495.5h1M107 498.5h1M107 499.5h1M107 504.5h1M107 514.5h1M107 516.5h1M107 520.5h1M108 397.5h1M108 398.5h1M108 402.5h1M108 403.5h1M108 404.5h1M108 406.5h1M108 407.5h1M108 409.5h1M108 410.5h1M108 419.5h1M108 422.5h1M108 423.5h1M108 432.5h1M108 440.5h1M108 445.5h1M108 453.5h1M108 464.5h1M108 468.5h1M108 470.5h1M108 489.5h1M108 498.5h1M108 515.5h1M108 530.5h1M109 401.5h1M109 403.5h1M109 405.5h1M109 409.5h1M109 412.5h1M109 414.5h1M109 415.5h1M109 418.5h1M109 419.5h1M109 420.5h1M109 434.5h1M109 435.5h1M109 442.5h1M109 457.5h1M109 460.5h1M109 485.5h1M109 510.5h1M109 521.5h1M109 522.5h1M109 537.5h1M110 391.5h1M110 395.5h1M110 396.5h1M110 402.5h1M110 404.5h1M110 405.5h1M110 406.5h1M110 408.5h1M110 413.5h1M110 415.5h1M110 418.5h1M110 421.5h1M110 422.5h1M110 423.5h1M110 427.5h1M110 435.5h1M110 438.5h1M110 442.5h1M110 464.5h1M110 468.5h1M110 472.5h1M110 504.5h1M111 396.5h1M111 398.5h1M111 403.5h1M111 405.5h1M111 406.5h1M111 408.5h1M111 409.5h1M111 411.5h1M111 412.5h1M111 413.5h1M111 414.5h1M111 415.5h1M111 418.5h1M111 421.5h1M111 422.5h1M111 424.5h1M111 429.5h1M111 432.5h1M111 439.5h1M111 441.5h1M111 443.5h1M111 445.5h1M111 453.5h1M111 469.5h1M111 491.5h1M111 502.5h1M111 504.5h1M111 522.5h1M111 534.5h1M112 395.5h1M112 399.5h1M112 400.5h1M112 401.5h1M112 402.5h1M112 403.5h1M112 404.5h1M112 407.5h1M112 411.5h1M112 412.5h1M112 415.5h1M112 418.5h1M112 419.5h1M112 423.5h1M112 428.5h1M112 429.5h1M112 456.5h1M112 457.5h1M112 462.5h1M112 471.5h1M112 477.5h1M112 480.5h1M112 496.5h1M112 499.5h1M113 394.5h1M113 401.5h1M113 405.5h1M113 408.5h1M113 410.5h1M113 411.5h1M113 412.5h1M113 414.5h1M113 415.5h1M113 416.5h1M113 417.5h1M113 418.5h1M113 420.5h1M113 421.5h1M113 422.5h1M113 423.5h1M113 424.5h1M113 428.5h1M113 429.5h1M113 431.5h1M113 433.5h1M113 440.5h1M113 453.5h1M113 460.5h1M113 467.5h1M113 489.5h1M113 492.5h1M113 497.5h1M113 507.5h1M113 510.5h1M113 512.5h1M114 402.5h1M114 403.5h1M114 404.5h1M114 405.5h1M114 409.5h1M114 410.5h1M114 411.5h1M114 412.5h1M114 415.5h1M114 416.5h1M114 417.5h1M114 422.5h1M114 425.5h1M114 428.5h1M114 437.5h1M114 456.5h1M114 473.5h1M114 487.5h1M114 505.5h1M114 507.5h1M114 510.5h1M115 405.5h1M115 406.5h1M115 407.5h1M115 408.5h1M115 409.5h1M115 412.5h1M115 413.5h1M115 415.5h1M115 416.5h1M115 419.5h1M115 421.5h1M115 425.5h1M115 426.5h1M115 431.5h1M115 454.5h1M115 457.5h1M115 469.5h1M115 496.5h1M116 393.5h1M116 400.5h1M116 404.5h1M116 406.5h1M116 407.5h1M116 411.5h1M116 412.5h1M116 414.5h1M116 416.5h1M116 417.5h1M116 419.5h1M116 421.5h1M116 424.5h1M116 430.5h1M116 432.5h1M116 444.5h1M116 449.5h1M116 471.5h1M117 399.5h1M117 400.5h1M117 404.5h1M117 405.5h1M117 406.5h1M117 407.5h1M117 408.5h1M117 410.5h1M117 413.5h1M117 416.5h1M117 417.5h1M117 419.5h1M117 421.5h1M117 427.5h1M117 431.5h1M117 436.5h1M117 479.5h1M117 481.5h1M117 490.5h1M117 511.5h1M118 394.5h1M118 396.5h1M118 397.5h1M118 398.5h1M118 400.5h1M118 402.5h1M118 406.5h1M118 410.5h1M118 416.5h1M118 421.5h1M118 422.5h1M118 424.5h1M118 427.5h1M118 454.5h1M118 459.5h1M118 465.5h1M118 503.5h1M118 518.5h1M119 395.5h1M119 396.5h1M119 399.5h1M119 403.5h1M119 406.5h1M119 407.5h1M119 410.5h1M119 412.5h1M119 413.5h1M119 414.5h1M119 415.5h1M119 418.5h1M119 421.5h1M119 425.5h1M119 427.5h1M119 431.5h1M119 439.5h1M119 449.5h1M119 454.5h1M119 461.5h1M120 394.5h1M120 402.5h1M120 405.5h1M120 407.5h1M120 408.5h1M120 409.5h1M120 410.5h1M120 411.5h1M120 412.5h1M120 416.5h1M120 417.5h1M120 419.5h1M120 420.5h1M120 423.5h1M120 425.5h1M120 442.5h1M120 451.5h1M120 462.5h1M120 474.5h1M120 482.5h1M120 491.5h1M120 493.5h1M120 517.5h1M121 399.5h1M121 400.5h1M121 401.5h1M121 402.5h1M121 404.5h1M121 406.5h1M121 409.5h1M121 410.5h1M121 420.5h1M121 421.5h1M121 427.5h1M121 444.5h1M121 459.5h1M121 464.5h1M121 465.5h1M121 470.5h1M121 483.5h1M121 489.5h1M121 509.5h1M122 401.5h1M122 402.5h1M122 403.5h1M122 404.5h1M122 405.5h1M122 408.5h1M122 410.5h1M122 413.5h1M122 414.5h1M122 421.5h1M122 424.5h1M122 433.5h1M122 439.5h1M122 451.5h1M122 466.5h1M122 471.5h1M122 479.5h1M122 506.5h1M123 392.5h1M123 398.5h1M123 399.5h1M123 400.5h1M123 401.5h1M123 402.5h1M123 403.5h1M123 404.5h1M123 405.5h1M123 406.5h1M123 407.5h1M123 412.5h1M123 414.5h1M123 416.5h1M123 420.5h1M123 434.5h1M123 446.5h1M123 449.5h1M123 452.5h1M123 477.5h1M123 482.5h1M123 502.5h1M123 506.5h1M124 394.5h1M124 395.5h1M124 396.5h1M124 397.5h1M124 398.5h1M124 399.5h1M124 400.5h1M124 401.5h1M124 404.5h1M124 405.5h1M124 406.5h1M124 407.5h1M124 408.5h1M124 410.5h1M124 412.5h1M124 413.5h1M124 415.5h1M124 416.5h1M124 417.5h1M124 424.5h1M124 425.5h1M124 453.5h1M124 466.5h1M124 489.5h1M124 492.5h1M124 504.5h1M124 506.5h1M124 523.5h1M125 395.5h1M125 397.5h1M125 399.5h1M125 402.5h1M125 404.5h1M125 405.5h1M125 406.5h1M125 410.5h1M125 411.5h1M125 412.5h1M125 416.5h1M125 421.5h1M125 422.5h1M125 448.5h1M125 473.5h1M125 518.5h1M126 392.5h1M126 398.5h1M126 399.5h1M126 400.5h1M126 401.5h1M126 403.5h1M126 404.5h1M126 405.5h1M126 406.5h1M126 410.5h1M126 416.5h1M126 417.5h1M126 428.5h1M126 440.5h1M126 470.5h1M126 506.5h1M126 507.5h1M127 388.5h1M127 391.5h1M127 397.5h1M127 398.5h1M127 402.5h1M127 403.5h1M127 405.5h1M127 406.5h1M127 407.5h1M127 410.5h1M127 411.5h1M127 412.5h1M127 414.5h1M127 415.5h1M127 416.5h1M127 423.5h1M127 431.5h1M127 439.5h1M127 444.5h1M127 458.5h1M127 463.5h1M127 506.5h1M128 391.5h1M128 392.5h1M128 397.5h1M128 401.5h1M128 402.5h1M128 404.5h1M128 405.5h1M128 408.5h1M128 409.5h1M128 411.5h1M128 412.5h1M128 423.5h1M128 443.5h1M128 473.5h1M128 483.5h1M128 484.5h1M128 502.5h1M129 392.5h1M129 394.5h1M129 396.5h1M129 397.5h1M129 400.5h1M129 402.5h1M129 404.5h1M129 405.5h1M129 406.5h1M129 407.5h1M129 408.5h1M129 409.5h1M129 411.5h1M129 412.5h1M129 413.5h1M129 417.5h1M129 418.5h1M129 419.5h1M129 421.5h1M129 508.5h1M129 514.5h1M129 558.5h1M130 390.5h1M130 395.5h1M130 396.5h1M130 398.5h1M130 399.5h1M130 400.5h1M130 401.5h1M130 402.5h1M130 403.5h1M130 407.5h1M130 408.5h1M130 409.5h1M130 412.5h1M130 413.5h1M130 419.5h1M130 421.5h1M130 426.5h1M130 440.5h1M130 500.5h1M131 386.5h1M131 388.5h1M131 390.5h1M131 392.5h1M131 393.5h1M131 396.5h1M131 399.5h1M131 400.5h1M131 402.5h1M131 403.5h1M131 404.5h1M131 405.5h1M131 406.5h1M131 408.5h1M131 409.5h1M131 410.5h1M131 411.5h1M131 412.5h1M131 413.5h1M131 419.5h1M131 426.5h1M131 465.5h1M131 467.5h1M131 507.5h1M132 397.5h1M132 398.5h1M132 402.5h1M132 403.5h1M132 404.5h1M132 405.5h1M132 406.5h1M132 407.5h1M132 408.5h1M132 409.5h1M132 411.5h1M132 412.5h1M132 413.5h1M132 414.5h1M132 416.5h1M132 418.5h1M132 487.5h1M132 516.5h1M133 392.5h1M133 393.5h1M133 396.5h1M133 399.5h1M133 400.5h1M133 402.5h1M133 404.5h1M133 405.5h1M133 407.5h1M133 408.5h1M133 409.5h1M133 411.5h1M133 419.5h1M133 441.5h1M133 445.5h1M133 457.5h1M133 522.5h1M133 523.5h1M134 389.5h1M134 399.5h1M134 400.5h1M134 401.5h1M134 402.5h1M134 405.5h1M134 408.5h1M134 411.5h1M134 414.5h1M134 416.5h1M134 417.5h1M134 418.5h1M134 420.5h1M134 494.5h1M134 496.5h1M134 498.5h1M135 391.5h1M135 394.5h1M135 395.5h1M135 396.5h1M135 397.5h1M135 398.5h1M135 399.5h1M135 400.5h1M135 401.5h1M135 402.5h1M135 403.5h1M135 404.5h1M135 406.5h1M135 407.5h1M135 409.5h1M135 411.5h1M135 412.5h1M135 416.5h1M135 419.5h1M135 422.5h1M135 442.5h1M135 482.5h1M135 483.5h1M135 503.5h1M136 388.5h1M136 390.5h1M136 392.5h1M136 397.5h1M136 399.5h1M136 400.5h1M136 402.5h1M136 404.5h1M136 405.5h1M136 406.5h1M136 407.5h1M136 408.5h1M136 410.5h1M136 411.5h1M136 412.5h1M136 413.5h1M136 415.5h1M136 419.5h1M136 423.5h1M136 460.5h1M136 461.5h1M136 480.5h1M137 390.5h1M137 391.5h1M137 396.5h1M137 397.5h1M137 398.5h1M137 400.5h1M137 401.5h1M137 402.5h1M137 403.5h1M137 404.5h1M137 405.5h1M137 406.5h1M137 408.5h1M137 412.5h1M137 414.5h1M137 417.5h1M137 419.5h1M137 432.5h1M137 483.5h1M137 484.5h1M137 498.5h1M138 392.5h1M138 394.5h1M138 395.5h1M138 398.5h1M138 399.5h1M138 400.5h1M138 401.5h1M138 402.5h1M138 403.5h1M138 404.5h1M138 405.5h1M138 407.5h1M138 408.5h1M138 411.5h1M138 413.5h1M138 414.5h1M138 415.5h1M138 486.5h1M138 504.5h1M138 516.5h1M139 387.5h1M139 391.5h1M139 393.5h1M139 396.5h1M139 398.5h1M139 399.5h1M139 400.5h1M139 402.5h1M139 403.5h1M139 407.5h1M139 408.5h1M139 409.5h1M139 410.5h1M139 411.5h1M139 413.5h1M139 417.5h1M139 421.5h1M139 423.5h1M139 443.5h1M139 444.5h1M139 498.5h1M140 390.5h1M140 392.5h1M140 395.5h1M140 397.5h1M140 399.5h1M140 401.5h1M140 403.5h1M140 404.5h1M140 405.5h1M140 406.5h1M140 409.5h1M140 411.5h1M140 414.5h1M140 416.5h1M140 421.5h1M140 432.5h1M140 490.5h1M140 505.5h1M141 390.5h1M141 393.5h1M141 394.5h1M141 395.5h1M141 397.5h1M141 398.5h1M141 399.5h1M141 400.5h1M141 402.5h1M141 404.5h1M141 405.5h1M141 406.5h1M141 409.5h1M141 412.5h1M141 415.5h1M141 419.5h1M141 511.5h1M142 390.5h1M142 394.5h1M142 396.5h1M142 397.5h1M142 398.5h1M142 399.5h1M142 400.5h1M142 402.5h1M142 403.5h1M142 405.5h1M142 406.5h1M142 407.5h1M142 408.5h1M142 411.5h1M142 418.5h1M142 442.5h1M142 498.5h1M142 520.5h1M143 393.5h1M143 394.5h1M143 397.5h1M143 398.5h1M143 399.5h1M143 400.5h1M143 402.5h1M143 403.5h1M143 404.5h1M143 406.5h1M143 408.5h1M143 409.5h1M143 411.5h1M143 420.5h1M143 426.5h1M143 515.5h1M144 394.5h1M144 397.5h1M144 398.5h1M144 399.5h1M144 402.5h1M144 403.5h1M144 404.5h1M144 405.5h1M144 406.5h1M144 408.5h1M144 409.5h1M144 411.5h1M144 412.5h1M144 417.5h1M144 423.5h1M144 467.5h1M144 515.5h1M145 385.5h1M145 387.5h1M145 395.5h1M145 396.5h1M145 398.5h1M145 400.5h1M145 401.5h1M145 402.5h1M145 403.5h1M145 404.5h1M145 405.5h1M145 406.5h1M145 407.5h1M145 408.5h1M145 410.5h1M145 412.5h1M145 413.5h1M145 466.5h1M145 478.5h1M145 495.5h1M145 539.5h1M146 392.5h1M146 394.5h1M146 395.5h1M146 396.5h1M146 398.5h1M146 401.5h1M146 402.5h1M146 403.5h1M146 404.5h1M146 406.5h1M146 407.5h1M146 408.5h1M146 411.5h1M146 414.5h1M146 423.5h1M146 426.5h1M146 438.5h1M147 385.5h1M147 388.5h1M147 393.5h1M147 396.5h1M147 398.5h1M147 399.5h1M147 401.5h1M147 402.5h1M147 403.5h1M147 404.5h1M147 405.5h1M147 407.5h1M147 409.5h1M147 410.5h1M147 430.5h1M148 388.5h1M148 391.5h1M148 392.5h1M148 393.5h1M148 394.5h1M148 395.5h1M148 396.5h1M148 397.5h1M148 398.5h1M148 399.5h1M148 400.5h1M148 404.5h1M148 406.5h1M148 407.5h1M148 409.5h1M148 410.5h1M148 439.5h1M148 455.5h1M148 525.5h1M149 389.5h1M149 392.5h1M149 394.5h1M149 395.5h1M149 396.5h1M149 397.5h1M149 398.5h1M149 399.5h1M149 400.5h1M149 402.5h1M149 403.5h1M149 405.5h1M149 406.5h1M149 411.5h1M149 429.5h1M149 463.5h1M149 482.5h1M149 514.5h1M150 392.5h1M150 395.5h1M150 398.5h1M150 399.5h1M150 400.5h1M150 401.5h1M150 403.5h1M150 404.5h1M150 405.5h1M150 409.5h1M150 435.5h1M150 453.5h1M151 390.5h1M151 392.5h1M151 393.5h1M151 394.5h1M151 398.5h1M151 400.5h1M151 401.5h1M151 402.5h1M151 405.5h1M151 406.5h1M151 407.5h1M151 409.5h1M151 418.5h1M152 389.5h1M152 391.5h1M152 392.5h1M152 393.5h1M152 394.5h1M152 396.5h1M152 398.5h1M152 399.5h1M152 400.5h1M152 401.5h1M152 402.5h1M152 403.5h1M152 405.5h1M152 410.5h1M152 411.5h1M152 414.5h1M152 418.5h1M152 422.5h1M152 446.5h1M152 493.5h1M153 391.5h1M153 394.5h1M153 399.5h1M153 400.5h1M153 401.5h1M153 402.5h1M153 403.5h1M153 406.5h1M153 407.5h1M153 408.5h1M153 409.5h1M153 440.5h1M153 486.5h1M153 509.5h1M154 383.5h1M154 388.5h1M154 389.5h1M154 391.5h1M154 393.5h1M154 394.5h1M154 396.5h1M154 397.5h1M154 400.5h1M154 401.5h1M154 406.5h1M154 411.5h1M154 478.5h1M154 500.5h1M155 392.5h1M155 393.5h1M155 394.5h1M155 397.5h1M155 401.5h1M155 402.5h1M155 404.5h1M155 406.5h1M155 407.5h1M155 408.5h1M155 413.5h1M155 447.5h1M155 530.5h1M156 387.5h1M156 390.5h1M156 392.5h1M156 397.5h1M156 399.5h1M156 400.5h1M156 405.5h1M156 409.5h1M156 417.5h1M157 386.5h1M157 395.5h1M157 396.5h1M157 397.5h1M157 400.5h1M157 406.5h1M157 409.5h1M157 459.5h1M158 392.5h1M158 393.5h1M158 395.5h1M158 397.5h1M158 398.5h1M158 399.5h1M158 401.5h1M158 402.5h1M158 405.5h1M158 406.5h1M158 413.5h1M158 450.5h1M159 388.5h1M159 389.5h1M159 393.5h1M159 397.5h1M159 399.5h1M159 400.5h1M159 408.5h1M159 409.5h1M159 417.5h1M159 445.5h1M159 514.5h1M160 385.5h1M160 389.5h1M160 391.5h1M160 392.5h1M160 394.5h1M160 395.5h1M160 396.5h1M160 397.5h1M160 401.5h1M160 405.5h1M160 406.5h1M160 421.5h1M160 449.5h1M160 513.5h1M161 382.5h1M161 392.5h1M161 393.5h1M161 396.5h1M161 398.5h1M161 399.5h1M161 401.5h1M161 403.5h1M161 406.5h1M161 407.5h1M161 408.5h1M161 442.5h1M162 384.5h1M162 390.5h1M162 392.5h1M162 393.5h1M162 396.5h1M162 397.5h1M162 403.5h1M162 405.5h1M162 433.5h1M163 390.5h1M163 391.5h1M163 392.5h1M163 394.5h1M163 395.5h1M163 396.5h1M163 399.5h1M163 400.5h1M163 402.5h1M163 403.5h1M163 404.5h1M163 421.5h1M163 435.5h1M163 450.5h1M163 469.5h1M163 513.5h1M164 379.5h1M164 384.5h1M164 387.5h1M164 388.5h1M164 391.5h1M164 392.5h1M164 394.5h1M164 395.5h1M164 396.5h1M164 397.5h1M164 398.5h1M164 399.5h1M164 402.5h1M164 403.5h1M164 406.5h1M164 407.5h1M164 477.5h1M165 390.5h1M165 391.5h1M165 393.5h1M165 395.5h1M165 396.5h1M165 402.5h1M165 404.5h1M165 405.5h1M165 427.5h1M165 429.5h1M165 454.5h1M165 496.5h1M166 389.5h1M166 390.5h1M166 391.5h1M166 394.5h1M166 395.5h1M166 396.5h1M166 397.5h1M166 398.5h1M166 400.5h1M166 401.5h1M166 403.5h1M166 411.5h1M167 383.5h1M167 384.5h1M167 388.5h1M167 392.5h1M167 393.5h1M167 396.5h1M167 399.5h1M167 426.5h1M167 484.5h1M168 383.5h1M168 385.5h1M168 390.5h1M168 391.5h1M168 394.5h1M168 396.5h1M168 397.5h1M168 400.5h1M168 408.5h1M168 410.5h1M168 448.5h1M169 388.5h1M169 389.5h1M169 391.5h1M169 397.5h1M169 406.5h1M169 407.5h1M169 464.5h1M169 503.5h1M169 516.5h1M170 386.5h1M170 388.5h1M170 389.5h1M170 393.5h1M170 399.5h1M170 402.5h1M170 406.5h1M170 415.5h1M170 447.5h1M170 449.5h1M171 385.5h1M171 391.5h1M171 392.5h1M171 395.5h1M171 403.5h1M172 376.5h1M172 385.5h1M172 387.5h1M172 388.5h1M172 389.5h1M172 393.5h1M172 397.5h1M172 406.5h1M173 382.5h1M173 393.5h1M173 394.5h1M173 397.5h1M173 398.5h1M173 401.5h1M173 414.5h1M173 416.5h1M173 470.5h1M174 384.5h1M174 385.5h1M174 389.5h1M174 398.5h1M174 406.5h1M174 410.5h1M174 456.5h1M175 383.5h1M175 385.5h1M175 386.5h1M175 388.5h1M175 389.5h1M175 393.5h1M175 394.5h1M175 397.5h1M175 415.5h1M176 387.5h1M176 388.5h1M176 395.5h1M176 399.5h1M176 403.5h1M176 405.5h1M176 421.5h1M176 424.5h1M177 384.5h1M177 386.5h1M177 389.5h1M177 391.5h1M177 395.5h1M177 398.5h1M177 399.5h1M177 441.5h1M177 485.5h1M178 383.5h1M178 384.5h1M178 396.5h1M179 380.5h1M179 384.5h1M179 390.5h1M179 396.5h1M179 398.5h1M179 399.5h1M179 527.5h1M180 382.5h1M180 383.5h1M180 385.5h1M180 388.5h1M180 392.5h1M180 394.5h1M180 400.5h1M180 455.5h1M181 380.5h1M181 388.5h1M181 393.5h1M182 389.5h1M182 551.5h1M183 389.5h1M183 391.5h1M183 410.5h1M183 449.5h1M183 521.5h1M183 533.5h1M184 386.5h1M184 388.5h1M184 391.5h1M184 392.5h1M184 413.5h1M184 496.5h1M185 395.5h1M186 389.5h1M186 390.5h1M186 413.5h1M187 377.5h1M188 389.5h1M191 512.5h1M192 421.5h1M194 463.5h1M194 490.5h1M195 376.5h1M195 407.5h1M199 404.5h1M200 419.5h1M211 506.5h1M214 454.5h1M225 507.5h1M228 495.5h1M229 529.5h1M234 399.5h1M234 456.5h1M242 389.5h1M242 472.5h1M245 465.5h1M249 495.5h1" stroke="#000" stroke-width="1" fill="none"/>
<path d="M58.3 493.6 L75.5 478.3" stroke="#fff" stroke-width="2.6" fill="none" opacity="0.85"/>
<path d="M57.8 492 L77.1 474.8" stroke="#666" stroke-width="0.8" fill="none"/>
<text x="148.2" y="363.3" font-size="17.7" text-anchor="middle">hIgG</text>
<text x="148.6" y="604.2" font-size="17.3" text-anchor="middle">7-AAD</text>
<text transform="translate(22.3 464) rotate(-90)" font-size="17.8" text-anchor="middle">BrdU (FITC)</text>
<text x="60.3" y="416.2" font-size="14.5" text-anchor="middle">Ap:</text>
<text x="60.2" y="433.3" font-size="14.5" text-anchor="middle">3.7%</text>
<path d="M58.3 452.3 V437" stroke="#000" stroke-width="1.7" fill="none"/>
<path d="M58.3 460.3 l-5.6 -11 h11.2 z" fill="#000"/>
<text x="230.5" y="421" font-size="14.5" text-anchor="middle">S:</text>
<text x="230.8" y="438.2" font-size="14.5" text-anchor="middle">9.5%</text>
<path d="M195 422.9 H211" stroke="#000" stroke-width="1.7" fill="none"/>
<path d="M187 422.9 l11.6 -5.8 v11.6 z" fill="#000"/>
<text x="228.7" y="497" font-size="14.5" text-anchor="middle">G2+M:</text>
<text x="229" y="513.4" font-size="14.5" text-anchor="middle">0.5%</text>
<path d="M194.5 499.8 H210" stroke="#000" stroke-width="1.7" fill="none"/>
<path d="M186.5 499.8 l11.6 -5.8 v11.6 z" fill="#000"/>
<text x="137.9" y="545.4" font-size="14.5" text-anchor="start">G0/G1: 85.6%</text>
<path d="M114.7 540.7 H133.8" stroke="#000" stroke-width="1.7" fill="none"/>
<path d="M106.7 540.7 l11.6 -5.8 v11.6 z" fill="#000"/>
<path d="M292.4 370.9 H504.2" fill="none" stroke="#9a9a9a" stroke-width="1"/>
<path d="M504.2 370.9 V570" fill="none" stroke="#9a9a9a" stroke-width="1"/>
<path d="M292.4 570 H504.2" fill="none" stroke="#8a8a8a" stroke-width="1"/>
<path d="M292.4 370.9 V570.5" fill="none" stroke="#3a3a3a" stroke-width="1.3"/>
<path d="M292.4 570.5 H504.2" fill="none" stroke="#444" stroke-width="1.5" stroke-dasharray="1 3.15"/>
<path d="M291.59999999999997 372.9 V570" fill="none" stroke="#333" stroke-width="1.4" stroke-dasharray="1 3.5"/>
<path d="M503.4 373.9 V570" fill="none" stroke="#555" stroke-width="1.3" stroke-dasharray="1 9.2"/>
<path d="M327.1 370.6 V474.8 H452.2 V370.6" fill="none" stroke="#6a6a6a" stroke-width="1"/>
<path d="M355.5 474.8 V524.8 H452.2 V474.8" fill="none" stroke="#6a6a6a" stroke-width="1"/>
<path d="M298.3 474.8 H355.5 V548.3 H298.3 Z" fill="none" stroke="#6a6a6a" stroke-width="1"/>
<path d="M292.4 458.5 H327.1 V474.8 L307.8 492 M292.4 539.3 H298.3" fill="none" stroke="#6a6a6a" stroke-width="1"/>
<path d="M349.4 512.6 L349.3 516.9 L348.4 521.0 L346.6 524.7 L344.2 527.8 L341.1 530.1 L337.6 531.5 L333.9 532.0 L330.1 531.5 L326.4 530.1 L323.0 527.8 L320.0 524.7 L317.7 521.0 L316.2 516.9 L315.4 512.6 L315.5 508.3 L316.4 504.2 L318.2 500.5 L320.6 497.4 L323.7 495.1 L327.2 493.7 L330.9 493.2 L334.7 493.7 L338.4 495.1 L341.8 497.4 L344.8 500.5 L347.1 504.2 L348.6 508.3 Z" fill="#000"/>
<path d="M293 492.5h1M293 496.5h1M293 508.5h1M293 510.5h1M293 523.5h1M294 476.5h1M294 482.5h1M294 491.5h1M294 492.5h1M294 493.5h1M294 494.5h1M294 495.5h1M294 496.5h1M294 499.5h1M294 500.5h1M294 501.5h1M294 503.5h1M294 504.5h1M294 506.5h1M294 507.5h1M294 508.5h1M294 509.5h1M294 511.5h1M294 512.5h1M294 514.5h1M294 516.5h1M294 517.5h1M294 519.5h1M294 524.5h1M294 525.5h1M294 528.5h1M294 529.5h1M294 530.5h1M294 533.5h1M295 380.5h1M295 489.5h1M295 490.5h1M295 492.5h1M295 493.5h1M295 494.5h1M295 495.5h1M295 497.5h1M295 498.5h1M295 500.5h1M295 502.5h1M295 503.5h1M295 504.5h1M295 505.5h1M295 506.5h1M295 507.5h1M295 508.5h1M295 509.5h1M295 510.5h1M295 513.5h1M295 514.5h1M295 515.5h1M295 516.5h1M295 517.5h1M295 518.5h1M295 519.5h1M295 520.5h1M295 521.5h1M295 522.5h1M295 525.5h1M295 526.5h1M295 529.5h1M296 479.5h1M296 482.5h1M296 485.5h1M296 487.5h1M296 490.5h1M296 492.5h1M296 495.5h1M296 496.5h1M296 497.5h1M296 499.5h1M296 501.5h1M296 502.5h1M296 504.5h1M296 505.5h1M296 507.5h1M296 509.5h1M296 510.5h1M296 512.5h1M296 514.5h1M296 516.5h1M296 517.5h1M296 518.5h1M296 519.5h1M296 521.5h1M296 522.5h1M296 525.5h1M296 527.5h1M296 528.5h1M296 534.5h1M296 545.5h1M297 485.5h1M297 486.5h1M297 487.5h1M297 488.5h1M297 491.5h1M297 492.5h1M297 493.5h1M297 494.5h1M297 495.5h1M297 497.5h1M297 498.5h1M297 499.5h1M297 500.5h1M297 501.5h1M297 504.5h1M297 507.5h1M297 508.5h1M297 510.5h1M297 512.5h1M297 513.5h1M297 515.5h1M297 516.5h1M297 517.5h1M297 518.5h1M297 519.5h1M297 521.5h1M297 522.5h1M297 523.5h1M297 525.5h1M297 528.5h1M297 530.5h1M297 532.5h1M297 537.5h1M297 549.5h1M298 475.5h1M298 479.5h1M298 480.5h1M298 484.5h1M298 488.5h1M298 490.5h1M298 491.5h1M298 492.5h1M298 493.5h1M298 494.5h1M298 495.5h1M298 496.5h1M298 498.5h1M298 500.5h1M298 501.5h1M298 502.5h1M298 504.5h1M298 506.5h1M298 508.5h1M298 509.5h1M298 510.5h1M298 511.5h1M298 512.5h1M298 513.5h1M298 514.5h1M298 515.5h1M298 516.5h1M298 518.5h1M298 519.5h1M298 520.5h1M298 521.5h1M298 523.5h1M298 524.5h1M298 525.5h1M298 526.5h1M298 527.5h1M298 528.5h1M298 530.5h1M298 532.5h1M299 475.5h1M299 485.5h1M299 486.5h1M299 487.5h1M299 488.5h1M299 489.5h1M299 490.5h1M299 491.5h1M299 493.5h1M299 494.5h1M299 495.5h1M299 496.5h1M299 497.5h1M299 498.5h1M299 499.5h1M299 504.5h1M299 506.5h1M299 507.5h1M299 509.5h1M299 510.5h1M299 511.5h1M299 512.5h1M299 513.5h1M299 514.5h1M299 516.5h1M299 518.5h1M299 519.5h1M299 520.5h1M299 521.5h1M299 522.5h1M299 523.5h1M299 524.5h1M299 526.5h1M299 528.5h1M299 530.5h1M299 543.5h1M300 477.5h1M300 482.5h1M300 483.5h1M300 485.5h1M300 486.5h1M300 487.5h1M300 489.5h1M300 490.5h1M300 491.5h1M300 492.5h1M300 493.5h1M300 494.5h1M300 496.5h1M300 497.5h1M300 498.5h1M300 500.5h1M300 501.5h1M300 502.5h1M300 504.5h1M300 505.5h1M300 506.5h1M300 507.5h1M300 508.5h1M300 509.5h1M300 510.5h1M300 511.5h1M300 513.5h1M300 514.5h1M300 517.5h1M300 518.5h1M300 519.5h1M300 521.5h1M300 523.5h1M300 524.5h1M300 526.5h1M300 527.5h1M300 529.5h1M300 534.5h1M301 476.5h1M301 479.5h1M301 480.5h1M301 481.5h1M301 484.5h1M301 485.5h1M301 486.5h1M301 488.5h1M301 489.5h1M301 490.5h1M301 491.5h1M301 493.5h1M301 494.5h1M301 495.5h1M301 496.5h1M301 498.5h1M301 499.5h1M301 500.5h1M301 501.5h1M301 503.5h1M301 504.5h1M301 505.5h1M301 507.5h1M301 510.5h1M301 511.5h1M301 512.5h1M301 513.5h1M301 514.5h1M301 515.5h1M301 516.5h1M301 517.5h1M301 518.5h1M301 520.5h1M301 521.5h1M301 522.5h1M301 524.5h1M301 526.5h1M301 527.5h1M301 528.5h1M301 540.5h1M301 545.5h1M302 475.5h1M302 485.5h1M302 486.5h1M302 487.5h1M302 488.5h1M302 489.5h1M302 491.5h1M302 492.5h1M302 493.5h1M302 494.5h1M302 495.5h1M302 496.5h1M302 497.5h1M302 499.5h1M302 500.5h1M302 501.5h1M302 502.5h1M302 503.5h1M302 504.5h1M302 505.5h1M302 506.5h1M302 508.5h1M302 511.5h1M302 512.5h1M302 513.5h1M302 516.5h1M302 517.5h1M302 519.5h1M302 520.5h1M302 521.5h1M302 522.5h1M302 523.5h1M302 525.5h1M302 526.5h1M302 528.5h1M302 530.5h1M302 531.5h1M303 479.5h1M303 481.5h1M303 482.5h1M303 484.5h1M303 485.5h1M303 486.5h1M303 487.5h1M303 489.5h1M303 490.5h1M303 491.5h1M303 493.5h1M303 495.5h1M303 496.5h1M303 497.5h1M303 499.5h1M303 500.5h1M303 502.5h1M303 503.5h1M303 505.5h1M303 506.5h1M303 507.5h1M303 508.5h1M303 509.5h1M303 510.5h1M303 511.5h1M303 512.5h1M303 513.5h1M303 514.5h1M303 515.5h1M303 516.5h1M303 518.5h1M303 520.5h1M303 521.5h1M303 522.5h1M303 525.5h1M303 526.5h1M303 529.5h1M303 530.5h1M304 476.5h1M304 479.5h1M304 482.5h1M304 483.5h1M304 484.5h1M304 485.5h1M304 486.5h1M304 487.5h1M304 488.5h1M304 489.5h1M304 490.5h1M304 491.5h1M304 492.5h1M304 494.5h1M304 499.5h1M304 500.5h1M304 501.5h1M304 502.5h1M304 503.5h1M304 504.5h1M304 505.5h1M304 506.5h1M304 507.5h1M304 508.5h1M304 509.5h1M304 510.5h1M304 511.5h1M304 512.5h1M304 513.5h1M304 516.5h1M304 517.5h1M304 518.5h1M304 519.5h1M304 520.5h1M304 521.5h1M304 522.5h1M304 523.5h1M304 526.5h1M304 527.5h1M304 528.5h1M304 529.5h1M304 530.5h1M304 531.5h1M304 532.5h1M304 535.5h1M304 548.5h1M305 476.5h1M305 478.5h1M305 481.5h1M305 482.5h1M305 483.5h1M305 484.5h1M305 485.5h1M305 486.5h1M305 487.5h1M305 488.5h1M305 489.5h1M305 490.5h1M305 492.5h1M305 493.5h1M305 494.5h1M305 495.5h1M305 496.5h1M305 497.5h1M305 498.5h1M305 499.5h1M305 501.5h1M305 502.5h1M305 503.5h1M305 504.5h1M305 506.5h1M305 507.5h1M305 508.5h1M305 509.5h1M305 510.5h1M305 513.5h1M305 514.5h1M305 517.5h1M305 518.5h1M305 519.5h1M305 520.5h1M305 521.5h1M305 522.5h1M305 523.5h1M305 524.5h1M305 525.5h1M305 526.5h1M305 527.5h1M305 529.5h1M305 530.5h1M305 531.5h1M305 548.5h1M305 553.5h1M306 380.5h1M306 474.5h1M306 476.5h1M306 478.5h1M306 479.5h1M306 481.5h1M306 483.5h1M306 484.5h1M306 485.5h1M306 486.5h1M306 487.5h1M306 488.5h1M306 490.5h1M306 491.5h1M306 493.5h1M306 494.5h1M306 496.5h1M306 497.5h1M306 498.5h1M306 499.5h1M306 500.5h1M306 501.5h1M306 502.5h1M306 504.5h1M306 505.5h1M306 506.5h1M306 507.5h1M306 508.5h1M306 509.5h1M306 510.5h1M306 511.5h1M306 512.5h1M306 513.5h1M306 515.5h1M306 516.5h1M306 517.5h1M306 518.5h1M306 519.5h1M306 520.5h1M306 521.5h1M306 522.5h1M306 523.5h1M306 524.5h1M306 525.5h1M306 526.5h1M306 527.5h1M306 528.5h1M306 530.5h1M306 532.5h1M306 536.5h1M306 545.5h1M306 548.5h1M306 551.5h1M306 559.5h1M307 480.5h1M307 481.5h1M307 484.5h1M307 485.5h1M307 486.5h1M307 487.5h1M307 488.5h1M307 489.5h1M307 490.5h1M307 491.5h1M307 492.5h1M307 493.5h1M307 494.5h1M307 496.5h1M307 498.5h1M307 499.5h1M307 500.5h1M307 502.5h1M307 503.5h1M307 504.5h1M307 505.5h1M307 506.5h1M307 507.5h1M307 508.5h1M307 509.5h1M307 510.5h1M307 512.5h1M307 513.5h1M307 514.5h1M307 515.5h1M307 517.5h1M307 518.5h1M307 519.5h1M307 521.5h1M307 522.5h1M307 523.5h1M307 524.5h1M307 525.5h1M307 526.5h1M307 527.5h1M307 528.5h1M307 529.5h1M307 532.5h1M307 533.5h1M307 534.5h1M307 542.5h1M307 544.5h1M307 552.5h1M308 477.5h1M308 479.5h1M308 480.5h1M308 481.5h1M308 482.5h1M308 483.5h1M308 484.5h1M308 485.5h1M308 486.5h1M308 487.5h1M308 491.5h1M308 492.5h1M308 493.5h1M308 496.5h1M308 497.5h1M308 498.5h1M308 501.5h1M308 502.5h1M308 504.5h1M308 505.5h1M308 506.5h1M308 507.5h1M308 508.5h1M308 509.5h1M308 510.5h1M308 513.5h1M308 515.5h1M308 517.5h1M308 518.5h1M308 519.5h1M308 520.5h1M308 521.5h1M308 522.5h1M308 523.5h1M308 524.5h1M308 525.5h1M308 526.5h1M308 527.5h1M308 529.5h1M308 530.5h1M308 531.5h1M308 532.5h1M308 533.5h1M308 536.5h1M308 537.5h1M308 546.5h1M308 555.5h1M309 473.5h1M309 474.5h1M309 479.5h1M309 481.5h1M309 482.5h1M309 485.5h1M309 486.5h1M309 487.5h1M309 488.5h1M309 489.5h1M309 490.5h1M309 491.5h1M309 492.5h1M309 494.5h1M309 495.5h1M309 497.5h1M309 498.5h1M309 499.5h1M309 501.5h1M309 502.5h1M309 503.5h1M309 504.5h1M309 505.5h1M309 506.5h1M309 507.5h1M309 508.5h1M309 509.5h1M309 510.5h1M309 511.5h1M309 512.5h1M309 513.5h1M309 514.5h1M309 515.5h1M309 519.5h1M309 521.5h1M309 522.5h1M309 523.5h1M309 524.5h1M309 525.5h1M309 526.5h1M309 527.5h1M309 529.5h1M309 531.5h1M309 534.5h1M309 537.5h1M309 539.5h1M309 540.5h1M309 543.5h1M309 547.5h1M310 471.5h1M310 475.5h1M310 477.5h1M310 478.5h1M310 480.5h1M310 481.5h1M310 482.5h1M310 483.5h1M310 484.5h1M310 487.5h1M310 488.5h1M310 490.5h1M310 491.5h1M310 492.5h1M310 493.5h1M310 494.5h1M310 495.5h1M310 496.5h1M310 497.5h1M310 498.5h1M310 499.5h1M310 500.5h1M310 502.5h1M310 503.5h1M310 504.5h1M310 505.5h1M310 506.5h1M310 507.5h1M310 508.5h1M310 509.5h1M310 510.5h1M310 511.5h1M310 512.5h1M310 513.5h1M310 514.5h1M310 515.5h1M310 516.5h1M310 518.5h1M310 519.5h1M310 520.5h1M310 521.5h1M310 522.5h1M310 523.5h1M310 524.5h1M310 526.5h1M310 528.5h1M310 529.5h1M310 530.5h1M310 531.5h1M310 533.5h1M310 534.5h1M310 542.5h1M311 472.5h1M311 473.5h1M311 475.5h1M311 477.5h1M311 478.5h1M311 479.5h1M311 480.5h1M311 481.5h1M311 482.5h1M311 483.5h1M311 484.5h1M311 485.5h1M311 486.5h1M311 487.5h1M311 488.5h1M311 489.5h1M311 492.5h1M311 493.5h1M311 494.5h1M311 496.5h1M311 498.5h1M311 499.5h1M311 500.5h1M311 501.5h1M311 502.5h1M311 503.5h1M311 504.5h1M311 505.5h1M311 506.5h1M311 507.5h1M311 508.5h1M311 509.5h1M311 510.5h1M311 511.5h1M311 512.5h1M311 513.5h1M311 514.5h1M311 515.5h1M311 516.5h1M311 517.5h1M311 518.5h1M311 519.5h1M311 522.5h1M311 523.5h1M311 524.5h1M311 525.5h1M311 526.5h1M311 527.5h1M311 528.5h1M311 530.5h1M311 531.5h1M311 533.5h1M311 534.5h1M311 544.5h1M311 545.5h1M311 553.5h1M312 471.5h1M312 475.5h1M312 476.5h1M312 477.5h1M312 479.5h1M312 480.5h1M312 481.5h1M312 482.5h1M312 483.5h1M312 484.5h1M312 485.5h1M312 486.5h1M312 487.5h1M312 489.5h1M312 490.5h1M312 492.5h1M312 493.5h1M312 494.5h1M312 495.5h1M312 496.5h1M312 497.5h1M312 498.5h1M312 499.5h1M312 500.5h1M312 501.5h1M312 502.5h1M312 503.5h1M312 504.5h1M312 505.5h1M312 506.5h1M312 507.5h1M312 508.5h1M312 509.5h1M312 510.5h1M312 511.5h1M312 512.5h1M312 513.5h1M312 514.5h1M312 515.5h1M312 516.5h1M312 517.5h1M312 518.5h1M312 519.5h1M312 521.5h1M312 522.5h1M312 524.5h1M312 525.5h1M312 526.5h1M312 527.5h1M312 528.5h1M312 529.5h1M312 532.5h1M312 533.5h1M312 538.5h1M312 540.5h1M313 470.5h1M313 471.5h1M313 475.5h1M313 476.5h1M313 478.5h1M313 479.5h1M313 480.5h1M313 483.5h1M313 488.5h1M313 490.5h1M313 491.5h1M313 492.5h1M313 493.5h1M313 494.5h1M313 496.5h1M313 497.5h1M313 498.5h1M313 500.5h1M313 501.5h1M313 502.5h1M313 503.5h1M313 504.5h1M313 505.5h1M313 506.5h1M313 507.5h1M313 508.5h1M313 509.5h1M313 510.5h1M313 511.5h1M313 512.5h1M313 513.5h1M313 514.5h1M313 515.5h1M313 516.5h1M313 517.5h1M313 518.5h1M313 519.5h1M313 520.5h1M313 521.5h1M313 523.5h1M313 524.5h1M313 525.5h1M313 527.5h1M313 528.5h1M313 530.5h1M313 533.5h1M313 535.5h1M313 538.5h1M313 548.5h1M313 552.5h1M313 559.5h1M313 561.5h1M314 471.5h1M314 474.5h1M314 475.5h1M314 476.5h1M314 477.5h1M314 478.5h1M314 480.5h1M314 481.5h1M314 482.5h1M314 483.5h1M314 485.5h1M314 486.5h1M314 487.5h1M314 489.5h1M314 490.5h1M314 493.5h1M314 494.5h1M314 495.5h1M314 496.5h1M314 498.5h1M314 499.5h1M314 500.5h1M314 501.5h1M314 502.5h1M314 503.5h1M314 504.5h1M314 505.5h1M314 506.5h1M314 508.5h1M314 509.5h1M314 510.5h1M314 511.5h1M314 512.5h1M314 513.5h1M314 514.5h1M314 516.5h1M314 517.5h1M314 518.5h1M314 519.5h1M314 520.5h1M314 521.5h1M314 523.5h1M314 524.5h1M314 525.5h1M314 526.5h1M314 527.5h1M314 529.5h1M314 530.5h1M314 531.5h1M314 542.5h1M314 544.5h1M315 431.5h1M315 471.5h1M315 472.5h1M315 473.5h1M315 474.5h1M315 475.5h1M315 477.5h1M315 478.5h1M315 479.5h1M315 480.5h1M315 481.5h1M315 484.5h1M315 487.5h1M315 488.5h1M315 490.5h1M315 491.5h1M315 493.5h1M315 494.5h1M315 495.5h1M315 497.5h1M315 498.5h1M315 499.5h1M315 500.5h1M315 501.5h1M315 502.5h1M315 503.5h1M315 504.5h1M315 505.5h1M315 506.5h1M315 507.5h1M315 508.5h1M315 509.5h1M315 510.5h1M315 511.5h1M315 512.5h1M315 513.5h1M315 514.5h1M315 515.5h1M315 516.5h1M315 517.5h1M315 518.5h1M315 519.5h1M315 520.5h1M315 521.5h1M315 522.5h1M315 523.5h1M315 525.5h1M315 526.5h1M315 528.5h1M315 529.5h1M315 533.5h1M315 544.5h1M315 545.5h1M315 547.5h1M315 548.5h1M316 463.5h1M316 470.5h1M316 472.5h1M316 473.5h1M316 475.5h1M316 477.5h1M316 479.5h1M316 481.5h1M316 483.5h1M316 485.5h1M316 486.5h1M316 487.5h1M316 488.5h1M316 489.5h1M316 490.5h1M316 491.5h1M316 492.5h1M316 493.5h1M316 494.5h1M316 495.5h1M316 496.5h1M316 497.5h1M316 498.5h1M316 500.5h1M316 501.5h1M316 502.5h1M316 503.5h1M316 504.5h1M316 505.5h1M316 506.5h1M316 507.5h1M316 508.5h1M316 509.5h1M316 510.5h1M316 511.5h1M316 512.5h1M316 513.5h1M316 514.5h1M316 515.5h1M316 516.5h1M316 517.5h1M316 518.5h1M316 519.5h1M316 520.5h1M316 521.5h1M316 522.5h1M316 523.5h1M316 526.5h1M316 541.5h1M316 543.5h1M316 559.5h1M317 471.5h1M317 472.5h1M317 473.5h1M317 474.5h1M317 475.5h1M317 477.5h1M317 479.5h1M317 482.5h1M317 483.5h1M317 484.5h1M317 486.5h1M317 488.5h1M317 489.5h1M317 490.5h1M317 491.5h1M317 492.5h1M317 493.5h1M317 494.5h1M317 495.5h1M317 496.5h1M317 497.5h1M317 498.5h1M317 499.5h1M317 501.5h1M317 502.5h1M317 503.5h1M317 504.5h1M317 505.5h1M317 506.5h1M317 507.5h1M317 508.5h1M317 509.5h1M317 510.5h1M317 511.5h1M317 512.5h1M317 513.5h1M317 514.5h1M317 515.5h1M317 516.5h1M317 517.5h1M317 518.5h1M317 519.5h1M317 520.5h1M317 521.5h1M317 522.5h1M317 523.5h1M317 524.5h1M317 525.5h1M317 526.5h1M317 527.5h1M317 528.5h1M317 532.5h1M317 540.5h1M317 541.5h1M318 467.5h1M318 469.5h1M318 470.5h1M318 471.5h1M318 472.5h1M318 480.5h1M318 482.5h1M318 484.5h1M318 485.5h1M318 487.5h1M318 488.5h1M318 489.5h1M318 490.5h1M318 491.5h1M318 492.5h1M318 493.5h1M318 494.5h1M318 495.5h1M318 496.5h1M318 497.5h1M318 498.5h1M318 499.5h1M318 500.5h1M318 501.5h1M318 502.5h1M318 503.5h1M318 504.5h1M318 505.5h1M318 506.5h1M318 507.5h1M318 508.5h1M318 509.5h1M318 510.5h1M318 511.5h1M318 512.5h1M318 513.5h1M318 514.5h1M318 515.5h1M318 516.5h1M318 517.5h1M318 518.5h1M318 519.5h1M318 520.5h1M318 521.5h1M318 522.5h1M318 524.5h1M318 525.5h1M318 526.5h1M318 527.5h1M318 530.5h1M318 535.5h1M318 537.5h1M318 540.5h1M318 543.5h1M318 547.5h1M318 550.5h1M319 464.5h1M319 465.5h1M319 467.5h1M319 469.5h1M319 471.5h1M319 472.5h1M319 479.5h1M319 480.5h1M319 482.5h1M319 486.5h1M319 487.5h1M319 488.5h1M319 489.5h1M319 490.5h1M319 491.5h1M319 493.5h1M319 494.5h1M319 495.5h1M319 496.5h1M319 497.5h1M319 498.5h1M319 499.5h1M319 500.5h1M319 501.5h1M319 502.5h1M319 503.5h1M319 504.5h1M319 505.5h1M319 506.5h1M319 507.5h1M319 508.5h1M319 509.5h1M319 510.5h1M319 511.5h1M319 512.5h1M319 513.5h1M319 514.5h1M319 515.5h1M319 516.5h1M319 517.5h1M319 518.5h1M319 519.5h1M319 520.5h1M319 521.5h1M319 522.5h1M319 523.5h1M319 524.5h1M319 525.5h1M319 526.5h1M319 528.5h1M319 532.5h1M319 536.5h1M319 537.5h1M319 541.5h1M319 544.5h1M319 546.5h1M319 554.5h1M320 462.5h1M320 466.5h1M320 470.5h1M320 471.5h1M320 472.5h1M320 473.5h1M320 475.5h1M320 477.5h1M320 478.5h1M320 482.5h1M320 485.5h1M320 487.5h1M320 490.5h1M320 491.5h1M320 492.5h1M320 493.5h1M320 494.5h1M320 495.5h1M320 496.5h1M320 497.5h1M320 498.5h1M320 499.5h1M320 500.5h1M320 501.5h1M320 502.5h1M320 503.5h1M320 504.5h1M320 505.5h1M320 506.5h1M320 507.5h1M320 509.5h1M320 510.5h1M320 511.5h1M320 512.5h1M320 513.5h1M320 514.5h1M320 515.5h1M320 516.5h1M320 517.5h1M320 518.5h1M320 519.5h1M320 520.5h1M320 521.5h1M320 522.5h1M320 523.5h1M320 524.5h1M320 525.5h1M320 526.5h1M320 527.5h1M320 529.5h1M320 530.5h1M320 531.5h1M320 534.5h1M320 535.5h1M320 537.5h1M320 538.5h1M320 540.5h1M320 543.5h1M320 546.5h1M320 556.5h1M321 470.5h1M321 471.5h1M321 472.5h1M321 473.5h1M321 476.5h1M321 479.5h1M321 480.5h1M321 483.5h1M321 488.5h1M321 490.5h1M321 491.5h1M321 492.5h1M321 493.5h1M321 494.5h1M321 495.5h1M321 496.5h1M321 497.5h1M321 498.5h1M321 499.5h1M321 500.5h1M321 501.5h1M321 502.5h1M321 503.5h1M321 504.5h1M321 505.5h1M321 506.5h1M321 507.5h1M321 508.5h1M321 509.5h1M321 510.5h1M321 511.5h1M321 512.5h1M321 513.5h1M321 514.5h1M321 515.5h1M321 516.5h1M321 517.5h1M321 518.5h1M321 519.5h1M321 520.5h1M321 521.5h1M321 522.5h1M321 523.5h1M321 524.5h1M321 525.5h1M321 526.5h1M321 527.5h1M321 529.5h1M321 532.5h1M321 542.5h1M321 544.5h1M321 548.5h1M322 476.5h1M322 479.5h1M322 484.5h1M322 490.5h1M322 492.5h1M322 493.5h1M322 494.5h1M322 495.5h1M322 496.5h1M322 497.5h1M322 498.5h1M322 499.5h1M322 500.5h1M322 501.5h1M322 502.5h1M322 503.5h1M322 504.5h1M322 505.5h1M322 506.5h1M322 507.5h1M322 508.5h1M322 509.5h1M322 510.5h1M322 511.5h1M322 512.5h1M322 513.5h1M322 514.5h1M322 515.5h1M322 516.5h1M322 517.5h1M322 518.5h1M322 519.5h1M322 520.5h1M322 521.5h1M322 522.5h1M322 524.5h1M322 525.5h1M322 526.5h1M322 527.5h1M322 529.5h1M322 530.5h1M322 531.5h1M322 537.5h1M322 540.5h1M322 543.5h1M322 546.5h1M322 553.5h1M323 468.5h1M323 470.5h1M323 479.5h1M323 483.5h1M323 486.5h1M323 488.5h1M323 490.5h1M323 491.5h1M323 492.5h1M323 493.5h1M323 494.5h1M323 495.5h1M323 496.5h1M323 497.5h1M323 498.5h1M323 499.5h1M323 500.5h1M323 501.5h1M323 502.5h1M323 503.5h1M323 504.5h1M323 505.5h1M323 506.5h1M323 507.5h1M323 508.5h1M323 509.5h1M323 510.5h1M323 511.5h1M323 512.5h1M323 513.5h1M323 514.5h1M323 515.5h1M323 516.5h1M323 517.5h1M323 518.5h1M323 519.5h1M323 520.5h1M323 521.5h1M323 522.5h1M323 523.5h1M323 524.5h1M323 525.5h1M323 526.5h1M323 527.5h1M323 528.5h1M323 529.5h1M323 530.5h1M323 532.5h1M323 533.5h1M323 534.5h1M323 537.5h1M323 539.5h1M323 540.5h1M323 541.5h1M323 544.5h1M323 552.5h1M323 557.5h1M324 464.5h1M324 470.5h1M324 471.5h1M324 474.5h1M324 475.5h1M324 477.5h1M324 482.5h1M324 485.5h1M324 487.5h1M324 489.5h1M324 491.5h1M324 492.5h1M324 493.5h1M324 494.5h1M324 495.5h1M324 496.5h1M324 497.5h1M324 498.5h1M324 499.5h1M324 500.5h1M324 501.5h1M324 502.5h1M324 503.5h1M324 504.5h1M324 505.5h1M324 506.5h1M324 507.5h1M324 508.5h1M324 509.5h1M324 510.5h1M324 511.5h1M324 512.5h1M324 513.5h1M324 514.5h1M324 515.5h1M324 516.5h1M324 517.5h1M324 518.5h1M324 519.5h1M324 520.5h1M324 521.5h1M324 522.5h1M324 523.5h1M324 524.5h1M324 525.5h1M324 526.5h1M324 527.5h1M324 528.5h1M324 529.5h1M324 530.5h1M324 531.5h1M324 532.5h1M324 538.5h1M324 540.5h1M324 544.5h1M324 545.5h1M324 552.5h1M325 465.5h1M325 470.5h1M325 472.5h1M325 490.5h1M325 493.5h1M325 494.5h1M325 495.5h1M325 496.5h1M325 498.5h1M325 499.5h1M325 500.5h1M325 501.5h1M325 502.5h1M325 503.5h1M325 504.5h1M325 505.5h1M325 506.5h1M325 507.5h1M325 508.5h1M325 509.5h1M325 510.5h1M325 511.5h1M325 512.5h1M325 513.5h1M325 514.5h1M325 515.5h1M325 516.5h1M325 517.5h1M325 518.5h1M325 519.5h1M325 521.5h1M325 522.5h1M325 523.5h1M325 524.5h1M325 525.5h1M325 526.5h1M325 527.5h1M325 528.5h1M325 529.5h1M325 531.5h1M325 532.5h1M325 535.5h1M325 547.5h1M325 550.5h1M325 553.5h1M325 555.5h1M326 472.5h1M326 476.5h1M326 484.5h1M326 489.5h1M326 491.5h1M326 492.5h1M326 493.5h1M326 494.5h1M326 495.5h1M326 496.5h1M326 497.5h1M326 498.5h1M326 499.5h1M326 500.5h1M326 501.5h1M326 502.5h1M326 503.5h1M326 504.5h1M326 506.5h1M326 507.5h1M326 509.5h1M326 510.5h1M326 511.5h1M326 512.5h1M326 513.5h1M326 514.5h1M326 515.5h1M326 516.5h1M326 517.5h1M326 518.5h1M326 519.5h1M326 520.5h1M326 521.5h1M326 522.5h1M326 523.5h1M326 524.5h1M326 525.5h1M326 526.5h1M326 527.5h1M326 528.5h1M326 530.5h1M326 532.5h1M326 534.5h1M326 539.5h1M326 547.5h1M326 548.5h1M326 558.5h1M327 478.5h1M327 482.5h1M327 487.5h1M327 488.5h1M327 490.5h1M327 491.5h1M327 492.5h1M327 493.5h1M327 495.5h1M327 496.5h1M327 497.5h1M327 500.5h1M327 501.5h1M327 502.5h1M327 503.5h1M327 504.5h1M327 505.5h1M327 506.5h1M327 507.5h1M327 508.5h1M327 509.5h1M327 511.5h1M327 512.5h1M327 513.5h1M327 514.5h1M327 515.5h1M327 516.5h1M327 517.5h1M327 518.5h1M327 519.5h1M327 520.5h1M327 521.5h1M327 522.5h1M327 523.5h1M327 524.5h1M327 525.5h1M327 526.5h1M327 527.5h1M327 528.5h1M327 529.5h1M327 530.5h1M327 531.5h1M327 539.5h1M327 540.5h1M327 541.5h1M327 548.5h1M327 551.5h1M328 487.5h1M328 490.5h1M328 492.5h1M328 493.5h1M328 494.5h1M328 495.5h1M328 496.5h1M328 497.5h1M328 499.5h1M328 501.5h1M328 502.5h1M328 503.5h1M328 504.5h1M328 505.5h1M328 506.5h1M328 507.5h1M328 508.5h1M328 509.5h1M328 510.5h1M328 511.5h1M328 512.5h1M328 513.5h1M328 514.5h1M328 515.5h1M328 516.5h1M328 517.5h1M328 518.5h1M328 520.5h1M328 522.5h1M328 523.5h1M328 525.5h1M328 526.5h1M328 528.5h1M328 529.5h1M328 530.5h1M328 531.5h1M328 532.5h1M328 534.5h1M328 537.5h1M329 463.5h1M329 489.5h1M329 491.5h1M329 493.5h1M329 494.5h1M329 495.5h1M329 496.5h1M329 497.5h1M329 498.5h1M329 499.5h1M329 500.5h1M329 501.5h1M329 503.5h1M329 504.5h1M329 505.5h1M329 506.5h1M329 507.5h1M329 508.5h1M329 510.5h1M329 511.5h1M329 512.5h1M329 513.5h1M329 514.5h1M329 515.5h1M329 516.5h1M329 517.5h1M329 518.5h1M329 519.5h1M329 520.5h1M329 521.5h1M329 522.5h1M329 523.5h1M329 524.5h1M329 525.5h1M329 526.5h1M329 527.5h1M329 529.5h1M329 530.5h1M329 531.5h1M329 532.5h1M329 533.5h1M329 535.5h1M329 538.5h1M329 542.5h1M329 543.5h1M329 547.5h1M330 431.5h1M330 490.5h1M330 491.5h1M330 493.5h1M330 495.5h1M330 496.5h1M330 497.5h1M330 498.5h1M330 499.5h1M330 500.5h1M330 501.5h1M330 503.5h1M330 505.5h1M330 506.5h1M330 507.5h1M330 508.5h1M330 509.5h1M330 510.5h1M330 511.5h1M330 512.5h1M330 513.5h1M330 514.5h1M330 515.5h1M330 516.5h1M330 517.5h1M330 520.5h1M330 521.5h1M330 522.5h1M330 523.5h1M330 524.5h1M330 526.5h1M330 527.5h1M330 528.5h1M330 530.5h1M330 531.5h1M330 532.5h1M330 534.5h1M330 535.5h1M330 539.5h1M330 541.5h1M330 546.5h1M330 558.5h1M331 462.5h1M331 467.5h1M331 489.5h1M331 490.5h1M331 491.5h1M331 492.5h1M331 493.5h1M331 494.5h1M331 495.5h1M331 496.5h1M331 497.5h1M331 498.5h1M331 499.5h1M331 501.5h1M331 502.5h1M331 503.5h1M331 504.5h1M331 505.5h1M331 506.5h1M331 508.5h1M331 509.5h1M331 510.5h1M331 511.5h1M331 512.5h1M331 513.5h1M331 514.5h1M331 515.5h1M331 516.5h1M331 517.5h1M331 518.5h1M331 519.5h1M331 521.5h1M331 522.5h1M331 523.5h1M331 524.5h1M331 525.5h1M331 526.5h1M331 527.5h1M331 528.5h1M331 529.5h1M331 530.5h1M331 531.5h1M331 532.5h1M331 533.5h1M331 534.5h1M331 535.5h1M331 536.5h1M331 540.5h1M331 546.5h1M331 550.5h1M332 455.5h1M332 467.5h1M332 491.5h1M332 492.5h1M332 493.5h1M332 494.5h1M332 495.5h1M332 496.5h1M332 497.5h1M332 498.5h1M332 500.5h1M332 501.5h1M332 502.5h1M332 503.5h1M332 504.5h1M332 505.5h1M332 506.5h1M332 507.5h1M332 508.5h1M332 509.5h1M332 510.5h1M332 511.5h1M332 512.5h1M332 514.5h1M332 515.5h1M332 516.5h1M332 517.5h1M332 518.5h1M332 519.5h1M332 520.5h1M332 521.5h1M332 522.5h1M332 523.5h1M332 524.5h1M332 525.5h1M332 526.5h1M332 527.5h1M332 528.5h1M332 529.5h1M332 530.5h1M332 531.5h1M332 532.5h1M332 541.5h1M332 543.5h1M332 545.5h1M332 562.5h1M333 445.5h1M333 447.5h1M333 456.5h1M333 462.5h1M333 469.5h1M333 471.5h1M333 487.5h1M333 490.5h1M333 492.5h1M333 494.5h1M333 495.5h1M333 496.5h1M333 497.5h1M333 498.5h1M333 499.5h1M333 500.5h1M333 501.5h1M333 502.5h1M333 503.5h1M333 505.5h1M333 506.5h1M333 507.5h1M333 508.5h1M333 509.5h1M333 510.5h1M333 511.5h1M333 513.5h1M333 514.5h1M333 515.5h1M333 516.5h1M333 517.5h1M333 518.5h1M333 519.5h1M333 520.5h1M333 521.5h1M333 522.5h1M333 523.5h1M333 524.5h1M333 525.5h1M333 526.5h1M333 527.5h1M333 528.5h1M333 529.5h1M333 530.5h1M333 531.5h1M333 532.5h1M333 533.5h1M333 534.5h1M333 535.5h1M333 536.5h1M333 542.5h1M333 546.5h1M333 555.5h1M334 472.5h1M334 480.5h1M334 490.5h1M334 492.5h1M334 493.5h1M334 495.5h1M334 496.5h1M334 497.5h1M334 498.5h1M334 500.5h1M334 501.5h1M334 502.5h1M334 503.5h1M334 506.5h1M334 508.5h1M334 509.5h1M334 510.5h1M334 511.5h1M334 512.5h1M334 513.5h1M334 515.5h1M334 516.5h1M334 517.5h1M334 518.5h1M334 520.5h1M334 521.5h1M334 522.5h1M334 523.5h1M334 524.5h1M334 525.5h1M334 526.5h1M334 527.5h1M334 528.5h1M334 529.5h1M334 530.5h1M334 531.5h1M334 532.5h1M334 534.5h1M334 535.5h1M334 541.5h1M334 543.5h1M334 545.5h1M335 450.5h1M335 458.5h1M335 489.5h1M335 490.5h1M335 491.5h1M335 493.5h1M335 494.5h1M335 495.5h1M335 496.5h1M335 497.5h1M335 498.5h1M335 499.5h1M335 500.5h1M335 501.5h1M335 502.5h1M335 503.5h1M335 504.5h1M335 505.5h1M335 506.5h1M335 508.5h1M335 509.5h1M335 510.5h1M335 511.5h1M335 512.5h1M335 513.5h1M335 514.5h1M335 516.5h1M335 517.5h1M335 518.5h1M335 519.5h1M335 520.5h1M335 521.5h1M335 524.5h1M335 525.5h1M335 526.5h1M335 527.5h1M335 528.5h1M335 529.5h1M335 530.5h1M335 532.5h1M335 533.5h1M335 534.5h1M335 535.5h1M335 539.5h1M335 543.5h1M335 544.5h1M335 549.5h1M335 551.5h1M335 555.5h1M336 491.5h1M336 492.5h1M336 493.5h1M336 495.5h1M336 497.5h1M336 499.5h1M336 500.5h1M336 501.5h1M336 502.5h1M336 503.5h1M336 504.5h1M336 505.5h1M336 506.5h1M336 507.5h1M336 508.5h1M336 509.5h1M336 510.5h1M336 511.5h1M336 512.5h1M336 513.5h1M336 515.5h1M336 516.5h1M336 517.5h1M336 518.5h1M336 519.5h1M336 520.5h1M336 521.5h1M336 522.5h1M336 523.5h1M336 524.5h1M336 525.5h1M336 526.5h1M336 527.5h1M336 528.5h1M336 530.5h1M336 531.5h1M336 532.5h1M336 540.5h1M336 557.5h1M337 494.5h1M337 495.5h1M337 496.5h1M337 497.5h1M337 498.5h1M337 499.5h1M337 500.5h1M337 501.5h1M337 503.5h1M337 504.5h1M337 505.5h1M337 506.5h1M337 507.5h1M337 508.5h1M337 509.5h1M337 511.5h1M337 512.5h1M337 514.5h1M337 515.5h1M337 517.5h1M337 518.5h1M337 519.5h1M337 520.5h1M337 521.5h1M337 522.5h1M337 523.5h1M337 524.5h1M337 525.5h1M337 526.5h1M337 527.5h1M337 528.5h1M337 529.5h1M337 530.5h1M337 531.5h1M337 532.5h1M337 533.5h1M337 534.5h1M337 535.5h1M337 537.5h1M337 541.5h1M337 544.5h1M337 546.5h1M338 465.5h1M338 468.5h1M338 480.5h1M338 487.5h1M338 491.5h1M338 493.5h1M338 494.5h1M338 495.5h1M338 496.5h1M338 497.5h1M338 499.5h1M338 500.5h1M338 501.5h1M338 502.5h1M338 504.5h1M338 505.5h1M338 506.5h1M338 507.5h1M338 508.5h1M338 509.5h1M338 510.5h1M338 511.5h1M338 512.5h1M338 513.5h1M338 514.5h1M338 515.5h1M338 517.5h1M338 518.5h1M338 519.5h1M338 520.5h1M338 521.5h1M338 522.5h1M338 523.5h1M338 524.5h1M338 525.5h1M338 526.5h1M338 528.5h1M338 529.5h1M338 531.5h1M338 533.5h1M338 537.5h1M338 541.5h1M338 546.5h1M338 550.5h1M339 447.5h1M339 489.5h1M339 493.5h1M339 495.5h1M339 496.5h1M339 497.5h1M339 498.5h1M339 499.5h1M339 501.5h1M339 503.5h1M339 504.5h1M339 505.5h1M339 506.5h1M339 507.5h1M339 508.5h1M339 509.5h1M339 510.5h1M339 511.5h1M339 512.5h1M339 513.5h1M339 514.5h1M339 515.5h1M339 516.5h1M339 517.5h1M339 518.5h1M339 519.5h1M339 520.5h1M339 521.5h1M339 522.5h1M339 523.5h1M339 524.5h1M339 525.5h1M339 526.5h1M339 527.5h1M339 528.5h1M339 529.5h1M339 530.5h1M339 531.5h1M339 533.5h1M339 534.5h1M339 538.5h1M339 541.5h1M339 547.5h1M339 554.5h1M340 485.5h1M340 489.5h1M340 491.5h1M340 494.5h1M340 495.5h1M340 496.5h1M340 497.5h1M340 498.5h1M340 499.5h1M340 500.5h1M340 501.5h1M340 502.5h1M340 503.5h1M340 504.5h1M340 505.5h1M340 506.5h1M340 507.5h1M340 508.5h1M340 509.5h1M340 510.5h1M340 511.5h1M340 512.5h1M340 513.5h1M340 514.5h1M340 515.5h1M340 516.5h1M340 517.5h1M340 518.5h1M340 519.5h1M340 520.5h1M340 521.5h1M340 522.5h1M340 523.5h1M340 524.5h1M340 525.5h1M340 526.5h1M340 528.5h1M340 529.5h1M340 530.5h1M340 532.5h1M340 533.5h1M340 534.5h1M340 535.5h1M340 541.5h1M341 445.5h1M341 490.5h1M341 491.5h1M341 493.5h1M341 496.5h1M341 499.5h1M341 500.5h1M341 501.5h1M341 502.5h1M341 503.5h1M341 504.5h1M341 505.5h1M341 506.5h1M341 507.5h1M341 508.5h1M341 509.5h1M341 510.5h1M341 511.5h1M341 512.5h1M341 513.5h1M341 514.5h1M341 515.5h1M341 516.5h1M341 517.5h1M341 518.5h1M341 519.5h1M341 520.5h1M341 521.5h1M341 522.5h1M341 523.5h1M341 524.5h1M341 525.5h1M341 526.5h1M341 527.5h1M341 528.5h1M341 529.5h1M341 531.5h1M341 532.5h1M341 533.5h1M341 537.5h1M341 552.5h1M342 454.5h1M342 473.5h1M342 488.5h1M342 490.5h1M342 491.5h1M342 492.5h1M342 493.5h1M342 496.5h1M342 497.5h1M342 498.5h1M342 499.5h1M342 500.5h1M342 501.5h1M342 502.5h1M342 503.5h1M342 504.5h1M342 505.5h1M342 506.5h1M342 508.5h1M342 509.5h1M342 510.5h1M342 511.5h1M342 512.5h1M342 513.5h1M342 514.5h1M342 515.5h1M342 516.5h1M342 517.5h1M342 519.5h1M342 520.5h1M342 521.5h1M342 522.5h1M342 523.5h1M342 524.5h1M342 527.5h1M342 528.5h1M342 529.5h1M342 531.5h1M342 535.5h1M342 536.5h1M342 548.5h1M342 558.5h1M342 560.5h1M343 481.5h1M343 496.5h1M343 497.5h1M343 498.5h1M343 499.5h1M343 500.5h1M343 501.5h1M343 502.5h1M343 503.5h1M343 504.5h1M343 506.5h1M343 507.5h1M343 508.5h1M343 509.5h1M343 510.5h1M343 511.5h1M343 512.5h1M343 513.5h1M343 514.5h1M343 515.5h1M343 516.5h1M343 519.5h1M343 520.5h1M343 524.5h1M343 525.5h1M343 526.5h1M343 527.5h1M343 528.5h1M343 529.5h1M343 530.5h1M343 531.5h1M343 532.5h1M343 548.5h1M344 397.5h1M344 458.5h1M344 470.5h1M344 482.5h1M344 487.5h1M344 490.5h1M344 495.5h1M344 496.5h1M344 497.5h1M344 498.5h1M344 499.5h1M344 501.5h1M344 503.5h1M344 504.5h1M344 505.5h1M344 506.5h1M344 508.5h1M344 509.5h1M344 510.5h1M344 511.5h1M344 513.5h1M344 514.5h1M344 515.5h1M344 516.5h1M344 517.5h1M344 518.5h1M344 519.5h1M344 523.5h1M344 524.5h1M344 525.5h1M344 526.5h1M344 527.5h1M344 528.5h1M344 529.5h1M344 530.5h1M344 531.5h1M344 536.5h1M344 549.5h1M345 461.5h1M345 465.5h1M345 494.5h1M345 495.5h1M345 496.5h1M345 497.5h1M345 498.5h1M345 499.5h1M345 501.5h1M345 502.5h1M345 503.5h1M345 504.5h1M345 505.5h1M345 507.5h1M345 508.5h1M345 509.5h1M345 510.5h1M345 511.5h1M345 512.5h1M345 513.5h1M345 514.5h1M345 515.5h1M345 516.5h1M345 517.5h1M345 518.5h1M345 519.5h1M345 520.5h1M345 521.5h1M345 522.5h1M345 523.5h1M345 524.5h1M345 525.5h1M345 526.5h1M345 527.5h1M345 528.5h1M345 529.5h1M345 530.5h1M345 533.5h1M345 534.5h1M345 535.5h1M345 539.5h1M345 547.5h1M345 548.5h1M346 463.5h1M346 496.5h1M346 498.5h1M346 499.5h1M346 500.5h1M346 501.5h1M346 502.5h1M346 503.5h1M346 504.5h1M346 505.5h1M346 506.5h1M346 509.5h1M346 510.5h1M346 511.5h1M346 513.5h1M346 514.5h1M346 515.5h1M346 516.5h1M346 517.5h1M346 518.5h1M346 519.5h1M346 520.5h1M346 521.5h1M346 522.5h1M346 523.5h1M346 524.5h1M346 525.5h1M346 526.5h1M346 528.5h1M346 529.5h1M346 530.5h1M346 534.5h1M346 537.5h1M346 554.5h1M347 427.5h1M347 431.5h1M347 444.5h1M347 455.5h1M347 466.5h1M347 476.5h1M347 495.5h1M347 496.5h1M347 498.5h1M347 500.5h1M347 501.5h1M347 502.5h1M347 503.5h1M347 504.5h1M347 505.5h1M347 506.5h1M347 507.5h1M347 508.5h1M347 509.5h1M347 510.5h1M347 512.5h1M347 513.5h1M347 514.5h1M347 515.5h1M347 516.5h1M347 517.5h1M347 518.5h1M347 519.5h1M347 520.5h1M347 521.5h1M347 522.5h1M347 524.5h1M347 525.5h1M347 526.5h1M347 529.5h1M347 531.5h1M347 532.5h1M347 542.5h1M348 498.5h1M348 502.5h1M348 503.5h1M348 504.5h1M348 505.5h1M348 506.5h1M348 507.5h1M348 508.5h1M348 509.5h1M348 510.5h1M348 511.5h1M348 512.5h1M348 514.5h1M348 515.5h1M348 516.5h1M348 517.5h1M348 518.5h1M348 519.5h1M348 520.5h1M348 521.5h1M348 523.5h1M348 524.5h1M348 525.5h1M348 526.5h1M348 527.5h1M348 532.5h1M348 537.5h1M349 466.5h1M349 499.5h1M349 501.5h1M349 502.5h1M349 503.5h1M349 505.5h1M349 506.5h1M349 507.5h1M349 508.5h1M349 509.5h1M349 511.5h1M349 512.5h1M349 513.5h1M349 515.5h1M349 517.5h1M349 518.5h1M349 519.5h1M349 520.5h1M349 521.5h1M349 522.5h1M349 524.5h1M349 525.5h1M349 526.5h1M349 528.5h1M349 530.5h1M349 531.5h1M349 534.5h1M349 545.5h1M350 450.5h1M350 467.5h1M350 482.5h1M350 494.5h1M350 504.5h1M350 505.5h1M350 506.5h1M350 507.5h1M350 509.5h1M350 510.5h1M350 512.5h1M350 514.5h1M350 515.5h1M350 516.5h1M350 517.5h1M350 518.5h1M350 519.5h1M350 521.5h1M350 522.5h1M350 523.5h1M350 525.5h1M350 528.5h1M350 529.5h1M351 470.5h1M351 507.5h1M351 508.5h1M351 509.5h1M351 510.5h1M351 511.5h1M351 512.5h1M351 514.5h1M351 515.5h1M351 516.5h1M351 517.5h1M351 518.5h1M351 519.5h1M351 520.5h1M351 522.5h1M351 523.5h1M352 448.5h1M352 454.5h1M352 463.5h1M352 471.5h1M352 496.5h1M352 499.5h1M352 503.5h1M352 504.5h1M352 508.5h1M352 511.5h1M352 512.5h1M352 513.5h1M352 514.5h1M352 519.5h1M352 521.5h1M352 522.5h1M352 527.5h1M352 541.5h1M352 553.5h1M353 474.5h1M353 497.5h1M353 503.5h1M353 506.5h1M353 513.5h1M353 514.5h1M353 515.5h1M353 517.5h1M353 518.5h1M353 522.5h1M354 502.5h1M354 504.5h1M354 506.5h1M354 507.5h1M354 511.5h1M354 512.5h1M354 514.5h1M354 518.5h1M354 545.5h1M354 552.5h1M355 449.5h1M355 452.5h1M355 459.5h1M355 502.5h1M355 503.5h1M355 505.5h1M355 508.5h1M355 512.5h1M355 517.5h1M355 527.5h1M355 529.5h1M355 568.5h1M356 467.5h1M356 480.5h1M356 488.5h1M356 502.5h1M356 511.5h1M356 513.5h1M357 470.5h1M357 509.5h1M357 514.5h1M357 517.5h1M357 521.5h1M358 513.5h1M358 517.5h1M358 518.5h1M359 463.5h1M359 510.5h1M359 527.5h1M360 459.5h1M360 461.5h1M360 481.5h1M360 482.5h1M360 484.5h1M360 517.5h1M361 460.5h1M361 513.5h1M361 516.5h1M361 523.5h1M361 530.5h1M362 444.5h1M362 515.5h1M363 448.5h1M363 452.5h1M363 473.5h1M363 495.5h1M365 472.5h1M365 501.5h1M366 436.5h1M366 450.5h1M366 482.5h1M366 518.5h1M367 479.5h1M367 480.5h1M367 484.5h1M367 503.5h1M367 510.5h1M369 485.5h1M369 520.5h1M370 430.5h1M371 386.5h1M371 419.5h1M371 427.5h1M371 457.5h1M371 462.5h1M371 469.5h1M372 435.5h1M372 471.5h1M372 492.5h1M373 385.5h1M373 442.5h1M373 448.5h1M373 513.5h1M374 486.5h1M374 490.5h1M375 427.5h1M375 455.5h1M375 480.5h1M375 482.5h1M375 504.5h1M375 515.5h1M375 519.5h1M376 416.5h1M376 523.5h1M377 430.5h1M377 433.5h1M377 488.5h1M377 495.5h1M377 499.5h1M377 517.5h1M378 445.5h1M378 502.5h1M378 503.5h1M379 429.5h1M379 483.5h1M379 493.5h1M379 494.5h1M380 492.5h1M381 435.5h1M381 503.5h1M381 514.5h1M383 393.5h1M383 425.5h1M383 476.5h1M383 491.5h1M384 522.5h1M385 439.5h1M385 463.5h1M385 527.5h1M387 491.5h1M387 495.5h1M388 444.5h1M388 478.5h1M388 522.5h1M389 408.5h1M389 469.5h1M389 485.5h1M389 495.5h1M390 456.5h1M391 423.5h1M391 426.5h1M392 495.5h1M393 427.5h1M394 494.5h1M394 509.5h1M395 406.5h1M397 416.5h1M398 397.5h1M398 404.5h1M398 541.5h1M399 492.5h1M400 379.5h1M403 392.5h1M404 480.5h1M405 491.5h1M405 499.5h1M407 396.5h1M407 500.5h1M408 416.5h1M408 428.5h1M409 425.5h1M411 385.5h1M411 507.5h1M412 513.5h1M413 482.5h1M414 385.5h1M414 521.5h1M415 430.5h1M416 491.5h1M416 501.5h1M418 460.5h1M418 522.5h1M420 399.5h1M420 408.5h1M421 384.5h1M421 508.5h1M423 391.5h1M426 502.5h1M426 512.5h1M428 386.5h1M432 399.5h1M434 387.5h1M434 497.5h1M435 408.5h1M437 387.5h1M437 522.5h1M438 393.5h1M438 490.5h1M445 511.5h1M447 538.5h1M458 388.5h1M470 565.5h1M475 508.5h1M481 567.5h1M484 494.5h1M488 483.5h1M498 373.5h1" stroke="#000" stroke-width="1" fill="none"/>
<path d="M314 487.5 L325.5 477.6" stroke="#fff" stroke-width="2.4" fill="none" opacity="0.8"/>
<path d="M313.8 486.7 L327.1 474.8" stroke="#666" stroke-width="0.8" fill="none"/>
<text x="392" y="363.3" font-size="17.5" text-anchor="middle">DC-HIL-Fc</text>
<text x="393" y="604.2" font-size="17.3" text-anchor="middle">7-AAD</text>
<text x="310.3" y="413.6" font-size="14.5" text-anchor="middle">Ap:</text>
<text x="310.2" y="431.4" font-size="14.5" text-anchor="middle">2.2%</text>
<path d="M308.3 451.3 V434.6" stroke="#000" stroke-width="1.7" fill="none"/>
<path d="M308.3 459.3 l-5.6 -11 h11.2 z" fill="#000"/>
<text x="481.8" y="421.3" font-size="14.5" text-anchor="middle">S:</text>
<text x="481.8" y="439.5" font-size="14.5" text-anchor="middle">0.5%</text>
<path d="M445 422.9 H461.5" stroke="#000" stroke-width="1.7" fill="none"/>
<path d="M437 422.9 l11.6 -5.8 v11.6 z" fill="#000"/>
<text x="480" y="497.8" font-size="14.5" text-anchor="middle">G2+M:</text>
<text x="479.5" y="515.2" font-size="14.5" text-anchor="middle">0.2%</text>
<path d="M444.5 500.5 H460" stroke="#000" stroke-width="1.7" fill="none"/>
<path d="M436.5 500.5 l11.6 -5.8 v11.6 z" fill="#000"/>
<text x="386.3" y="546.7" font-size="14.5" text-anchor="start">G0/G1: 96.4%</text>
<path d="M364.7 542 H385.2" stroke="#000" stroke-width="1.7" fill="none"/>
<path d="M356.7 542 l11.6 -5.8 v11.6 z" fill="#000"/>
<text class="s" transform="translate(39.6 568.9) rotate(-90)" font-size="6.3" fill="#222">10<tspan font-size="4" dy="-2.2">0</tspan></text>
<text class="s" transform="translate(39.6 519.8) rotate(-90)" font-size="6.3" fill="#222">10<tspan font-size="4" dy="-2.2">1</tspan></text>
<text class="s" transform="translate(39.6 470) rotate(-90)" font-size="6.3" fill="#222">10<tspan font-size="4" dy="-2.2">2</tspan></text>
<text class="s" transform="translate(39.6 420.8) rotate(-90)" font-size="6.3" fill="#222">10<tspan font-size="4" dy="-2.2">3</tspan></text>
<text class="s" transform="translate(39.6 371.5) rotate(-90)" font-size="6.3" fill="#222">10<tspan font-size="4" dy="-2.2">4</tspan></text>
<text class="s" transform="translate(33.6 476.6) rotate(-90)" font-size="4.1" fill="#222">FL1-Height</text>
<text class="s" x="40.6" y="577" font-size="6.3" fill="#222">0</text>
<text class="s" x="255" y="577" font-size="6.3" fill="#222" text-anchor="end">1023</text>
<text class="s" x="147.7" y="583" font-size="5.2" fill="#222" text-anchor="middle">FL2-Height</text>
<text class="s" x="139" y="425" font-size="3.8" fill="#333">R1</text>
<text class="s" x="151" y="500" font-size="3.8" fill="#333">R2</text>
<text class="s" transform="translate(289.6 568.9) rotate(-90)" font-size="6.3" fill="#222">10<tspan font-size="4" dy="-2.2">0</tspan></text>
<text class="s" transform="translate(289.6 519.8) rotate(-90)" font-size="6.3" fill="#222">10<tspan font-size="4" dy="-2.2">1</tspan></text>
<text class="s" transform="translate(289.6 470) rotate(-90)" font-size="6.3" fill="#222">10<tspan font-size="4" dy="-2.2">2</tspan></text>
<text class="s" transform="translate(289.6 420.8) rotate(-90)" font-size="6.3" fill="#222">10<tspan font-size="4" dy="-2.2">3</tspan></text>
<text class="s" transform="translate(289.6 371.5) rotate(-90)" font-size="6.3" fill="#222">10<tspan font-size="4" dy="-2.2">4</tspan></text>
<text class="s" transform="translate(283.6 476.6) rotate(-90)" font-size="4.1" fill="#222">FL1-Height</text>
<text class="s" x="290.6" y="577" font-size="6.3" fill="#222">0</text>
<text class="s" x="505" y="577" font-size="6.3" fill="#222" text-anchor="end">1023</text>
<text class="s" x="397.7" y="583" font-size="5.2" fill="#222" text-anchor="middle">FL2-Height</text>
<text class="s" x="389" y="425" font-size="3.8" fill="#333">R1</text>
<text class="s" x="401" y="500" font-size="3.8" fill="#333">R2</text>
</svg></body></html>
